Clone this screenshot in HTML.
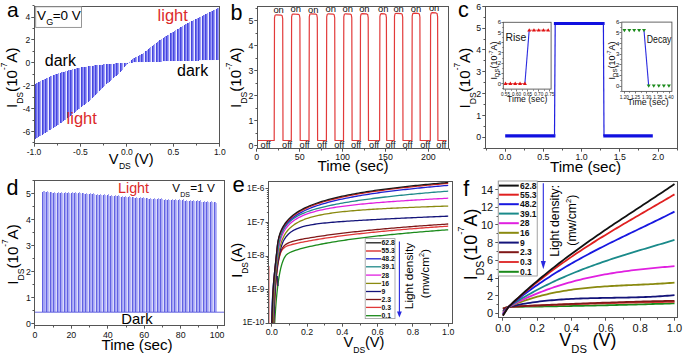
<!DOCTYPE html>
<html><head><meta charset="utf-8"><style>
html,body{margin:0;padding:0;background:#fff;}
svg{display:block;font-family:"Liberation Sans", sans-serif;}
</style></head><body>
<svg width="685" height="357" viewBox="0 0 685 357">
<rect width="685" height="357" fill="#fff"/>
<path d="M34.5,84.23 L35,83.96 L35.5,83.69 L36,83.42 L36.5,83.16 L37,82.89 L37.5,82.63 L38,82.37 L38.5,82.12 L39,81.86 L39.5,81.61 L40,81.36 L40.5,81.11 L41,80.86 L41.5,80.61 L42,80.37 L42.5,80.13 L43,79.89 L43.5,79.65 L44,79.41 L44.5,79.18 L45,78.95 L45.5,78.72 L46,78.49 L46.5,78.26 L47,78.03 L47.5,77.8 L48,77.58 L48.5,77.35 L49,77.13 L49.5,76.91 L50,76.69 L50.5,76.48 L51,76.27 L51.5,76.06 L52,75.85 L52.5,75.64 L53,75.44 L53.5,75.24 L54,75.05 L54.5,74.86 L55,74.67 L55.5,74.49 L56,74.31 L56.5,74.13 L57,73.95 L57.5,73.78 L58,73.61 L58.5,73.44 L59,73.27 L59.5,73.1 L60,72.94 L60.5,72.77 L61,72.61 L61.5,72.45 L62,72.3 L62.5,72.14 L63,71.99 L63.5,71.83 L64,71.68 L64.5,71.54 L65,71.39 L65.5,71.24 L66,71.1 L66.5,70.96 L67,70.82 L67.5,70.68 L68,70.55 L68.5,70.41 L69,70.28 L69.5,70.14 L70,70.01 L70.5,69.88 L71,69.75 L71.5,69.62 L72,69.49 L72.5,69.37 L73,69.24 L73.5,69.12 L74,69 L74.5,68.88 L75,68.76 L75.5,68.64 L76,68.52 L76.5,68.41 L77,68.3 L77.5,68.19 L78,68.08 L78.5,67.98 L79,67.88 L79.5,67.78 L80,67.68 L80.5,67.58 L81,67.49 L81.5,67.39 L82,67.3 L82.5,67.21 L83,67.12 L83.5,67.03 L84,66.95 L84.5,66.86 L85,66.78 L85.5,66.69 L86,66.61 L86.5,66.53 L87,66.45 L87.5,66.37 L88,66.29 L88.5,66.22 L89,66.14 L89.5,66.07 L90,66 L90.5,65.93 L91,65.86 L91.5,65.79 L92,65.73 L92.5,65.66 L93,65.6 L93.5,65.54 L94,65.48 L94.5,65.42 L95,65.36 L95.5,65.3 L96,65.25 L96.5,65.19 L97,65.13 L97.5,65.08 L98,65.03 L98.5,64.98 L99,64.92 L99.5,64.87 L100,64.82 L100.5,64.77 L101,64.73 L101.5,64.68 L102,64.63 L102.5,64.58 L103,64.54 L103.5,64.49 L104,64.44 L104.5,64.4 L105,64.35 L105.5,64.31 L106,64.26 L106.5,64.22 L107,64.18 L107.5,64.13 L108,64.09 L108.5,64.05 L109,64.01 L109.5,63.97 L110,63.93 L110.5,63.89 L111,63.85 L111.5,63.81 L112,63.77 L112.5,63.73 L113,63.69 L113.5,63.65 L114,63.61 L114.5,63.58 L115,63.54 L115.5,63.5 L116,63.46 L116.5,63.43 L117,63.39 L117.5,63.35 L118,63.31 L118.5,63.28 L119,63.24 L119.5,63.2 L120,63.17 L120.5,63.13 L121,63.1 L121.5,63.06 L122,63.02 L122.5,62.99 L123,62.95 L123.5,62.92 L124,62.88 L124.5,62.85 L125,62.81 L125.5,62.78 L126,62.75 L126.5,62.71 L127,62.68 L127.5,62.65 L128,62.61 L128.5,62.78 L129,62.74 L129.5,62.71 L130,62.67 L130.5,62.64 L131,62.61 L131.5,62.59 L132,62.56 L132.5,62.54 L133,62.52 L133.5,62.5 L134,62.48 L134.5,62.46 L135,62.44 L135.5,62.42 L136,62.41 L136.5,62.39 L137,62.37 L137.5,62.36 L138,62.34 L138.5,62.33 L139,62.31 L139.5,62.3 L140,62.28 L140.5,62.26 L141,62.25 L141.5,62.23 L142,62.21 L142.5,62.2 L143,62.18 L143.5,62.16 L144,62.14 L144.5,62.12 L145,62.11 L145.5,62.09 L146,62.07 L146.5,62.05 L147,62.03 L147.5,62.01 L148,61.99 L148.5,61.98 L149,61.96 L149.5,61.94 L150,61.92 L150.5,61.9 L151,61.88 L151.5,61.86 L152,61.85 L152.5,61.83 L153,61.81 L153.5,61.79 L154,61.77 L154.5,61.75 L155,61.73 L155.5,61.72 L156,61.7 L156.5,61.68 L157,61.66 L157.5,61.64 L158,61.63 L158.5,61.61 L159,61.59 L159.5,61.57 L160,61.56 L160.5,61.54 L161,61.52 L161.5,61.51 L162,61.49 L162.5,61.47 L163,61.46 L163.5,61.44 L164,61.42 L164.5,61.41 L165,61.39 L165.5,61.38 L166,61.36 L166.5,61.35 L167,61.33 L167.5,61.32 L168,61.3 L168.5,61.29 L169,61.28 L169.5,61.26 L170,61.25 L170.5,61.23 L171,61.22 L171.5,61.21 L172,61.19 L172.5,61.18 L173,61.17 L173.5,61.15 L174,61.14 L174.5,61.13 L175,61.11 L175.5,61.1 L176,61.09 L176.5,61.07 L177,61.06 L177.5,61.05 L178,61.04 L178.5,61.02 L179,61.01 L179.5,61 L180,60.98 L180.5,60.97 L181,60.96 L181.5,60.95 L182,60.93 L182.5,60.92 L183,60.91 L183.5,60.9 L184,60.88 L184.5,60.87 L185,60.86 L185.5,60.84 L186,60.83 L186.5,60.82 L187,60.81 L187.5,60.79 L188,60.78 L188.5,60.77 L189,60.75 L189.5,60.74 L190,60.73 L190.5,60.71 L191,60.7 L191.5,60.69 L192,60.68 L192.5,60.66 L193,60.65 L193.5,60.64 L194,60.62 L194.5,60.61 L195,60.6 L195.5,60.59 L196,60.57 L196.5,60.56 L197,60.55 L197.5,60.53 L198,60.52 L198.5,60.51 L199,60.5 L199.5,60.48 L200,60.47 L200.5,60.46 L201,60.45 L201.5,60.43 L202,60.42 L202.5,60.41 L203,60.4 L203.5,60.38 L204,60.37 L204.5,60.36 L205,60.35 L205.5,60.33 L206,60.32 L206.5,60.31 L207,60.3 L207.5,60.28 L208,60.27 L208.5,60.26 L209,60.25 L209.5,60.23 L210,60.22 L210.5,60.21 L211,60.2 L211.5,60.18 L212,60.17 L212.5,60.16 L213,60.15 L213.5,60.13 L214,60.12 L214.5,60.11 L215,60.1 L215.5,60.09 L216,60.07 L216.5,60.06 L217,60.05 L217.5,60.04 L218,60.02 L218.5,60.01 L219,60 L219.5,59.99 L219.5,7.35 L219,7.6 L218.5,7.85 L218,8.09 L217.5,8.34 L217,8.58 L216.5,8.83 L216,9.07 L215.5,9.32 L215,9.57 L214.5,9.82 L214,10.06 L213.5,10.31 L213,10.56 L212.5,10.81 L212,11.05 L211.5,11.3 L211,11.55 L210.5,11.8 L210,12.05 L209.5,12.3 L209,12.55 L208.5,12.8 L208,13.05 L207.5,13.3 L207,13.55 L206.5,13.81 L206,14.06 L205.5,14.31 L205,14.56 L204.5,14.82 L204,15.07 L203.5,15.32 L203,15.58 L202.5,15.83 L202,16.08 L201.5,16.34 L201,16.59 L200.5,16.84 L200,17.09 L199.5,17.35 L199,17.6 L198.5,17.85 L198,18.1 L197.5,18.35 L197,18.6 L196.5,18.84 L196,19.09 L195.5,19.33 L195,19.57 L194.5,19.81 L194,20.06 L193.5,20.3 L193,20.54 L192.5,20.79 L192,21.03 L191.5,21.28 L191,21.53 L190.5,21.78 L190,22.03 L189.5,22.29 L189,22.54 L188.5,22.8 L188,23.07 L187.5,23.34 L187,23.61 L186.5,23.89 L186,24.17 L185.5,24.45 L185,24.74 L184.5,25.03 L184,25.33 L183.5,25.62 L183,25.92 L182.5,26.23 L182,26.53 L181.5,26.84 L181,27.14 L180.5,27.45 L180,27.76 L179.5,28.07 L179,28.37 L178.5,28.68 L178,28.99 L177.5,29.29 L177,29.6 L176.5,29.9 L176,30.2 L175.5,30.5 L175,30.79 L174.5,31.09 L174,31.38 L173.5,31.67 L173,31.97 L172.5,32.26 L172,32.55 L171.5,32.84 L171,33.13 L170.5,33.42 L170,33.72 L169.5,34.01 L169,34.31 L168.5,34.61 L168,34.91 L167.5,35.21 L167,35.51 L166.5,35.82 L166,36.14 L165.5,36.45 L165,36.77 L164.5,37.09 L164,37.42 L163.5,37.75 L163,38.09 L162.5,38.42 L162,38.76 L161.5,39.1 L161,39.45 L160.5,39.8 L160,40.15 L159.5,40.5 L159,40.85 L158.5,41.21 L158,41.57 L157.5,41.93 L157,42.29 L156.5,42.66 L156,43.02 L155.5,43.39 L155,43.76 L154.5,44.13 L154,44.5 L153.5,44.87 L153,45.26 L152.5,45.65 L152,46.04 L151.5,46.45 L151,46.86 L150.5,47.27 L150,47.69 L149.5,48.11 L149,48.53 L148.5,48.95 L148,49.37 L147.5,49.79 L147,50.21 L146.5,50.62 L146,51.03 L145.5,51.43 L145,51.82 L144.5,52.2 L144,52.58 L143.5,52.94 L143,53.29 L142.5,53.63 L142,53.96 L141.5,54.27 L141,54.56 L140.5,54.84 L140,55.11 L139.5,55.37 L139,55.63 L138.5,55.88 L138,56.12 L137.5,56.37 L137,56.61 L136.5,56.85 L136,57.1 L135.5,57.36 L135,57.62 L134.5,57.88 L134,58.16 L133.5,58.45 L133,58.76 L132.5,59.08 L132,59.42 L131.5,59.78 L131,60.16 L130.5,60.59 L130,61.07 L129.5,61.59 L129,62.12 L128.5,62.67 L128,63.62 L127.5,64.18 L127,64.73 L126.5,65.28 L126,65.83 L125.5,66.37 L125,66.92 L124.5,67.45 L124,67.99 L123.5,68.52 L123,69.04 L122.5,69.57 L122,70.09 L121.5,70.6 L121,71.11 L120.5,71.62 L120,72.12 L119.5,72.62 L119,73.12 L118.5,73.61 L118,74.09 L117.5,74.57 L117,75.04 L116.5,75.51 L116,75.97 L115.5,76.42 L115,76.87 L114.5,77.32 L114,77.76 L113.5,78.2 L113,78.63 L112.5,79.07 L112,79.5 L111.5,79.94 L111,80.37 L110.5,80.8 L110,81.24 L109.5,81.67 L109,82.11 L108.5,82.55 L108,83 L107.5,83.45 L107,83.9 L106.5,84.36 L106,84.82 L105.5,85.29 L105,85.77 L104.5,86.26 L104,86.75 L103.5,87.25 L103,87.76 L102.5,88.27 L102,88.78 L101.5,89.3 L101,89.82 L100.5,90.34 L100,90.86 L99.5,91.38 L99,91.9 L98.5,92.42 L98,92.94 L97.5,93.45 L97,93.96 L96.5,94.46 L96,94.96 L95.5,95.46 L95,95.94 L94.5,96.42 L94,96.89 L93.5,97.35 L93,97.8 L92.5,98.24 L92,98.68 L91.5,99.11 L91,99.53 L90.5,99.95 L90,100.36 L89.5,100.77 L89,101.17 L88.5,101.57 L88,101.97 L87.5,102.36 L87,102.75 L86.5,103.14 L86,103.53 L85.5,103.92 L85,104.31 L84.5,104.69 L84,105.08 L83.5,105.47 L83,105.85 L82.5,106.24 L82,106.63 L81.5,107.03 L81,107.42 L80.5,107.82 L80,108.22 L79.5,108.62 L79,109.03 L78.5,109.44 L78,109.84 L77.5,110.25 L77,110.66 L76.5,111.07 L76,111.48 L75.5,111.89 L75,112.3 L74.5,112.71 L74,113.12 L73.5,113.53 L73,113.93 L72.5,114.33 L72,114.74 L71.5,115.14 L71,115.53 L70.5,115.93 L70,116.32 L69.5,116.71 L69,117.09 L68.5,117.47 L68,117.85 L67.5,118.22 L67,118.59 L66.5,118.96 L66,119.33 L65.5,119.7 L65,120.06 L64.5,120.42 L64,120.78 L63.5,121.14 L63,121.49 L62.5,121.85 L62,122.2 L61.5,122.55 L61,122.9 L60.5,123.24 L60,123.59 L59.5,123.93 L59,124.27 L58.5,124.61 L58,124.95 L57.5,125.28 L57,125.61 L56.5,125.95 L56,126.28 L55.5,126.6 L55,126.93 L54.5,127.25 L54,127.57 L53.5,127.89 L53,128.21 L52.5,128.52 L52,128.83 L51.5,129.14 L51,129.44 L50.5,129.75 L50,130.05 L49.5,130.35 L49,130.66 L48.5,130.96 L48,131.26 L47.5,131.56 L47,131.86 L46.5,132.16 L46,132.46 L45.5,132.76 L45,133.06 L44.5,133.36 L44,133.66 L43.5,133.96 L43,134.27 L42.5,134.57 L42,134.87 L41.5,135.16 L41,135.46 L40.5,135.76 L40,136.06 L39.5,136.36 L39,136.65 L38.5,136.95 L38,137.25 L37.5,137.54 L37,137.84 L36.5,138.13 L36,138.43 L35.5,138.72 L35,139.01 L34.5,139.31 Z" fill="#eeeefe"/>
<path d="M35,83.96 L35,139.01 L36,138.43 L36,83.42 Z M38,82.37 L38,137.25 L39,136.65 L39,81.86 Z M42,80.37 L42,134.87 L43,134.27 L43,79.89 Z M45,78.95 L45,133.06 L46,132.46 L46,78.49 Z M49,77.13 L49,130.66 L50,130.05 L50,76.69 Z M53,75.44 L53,128.21 L54,127.57 L54,75.05 Z M56,74.31 L56,126.28 L57,125.61 L57,73.95 Z M60,72.94 L60,123.59 L61,122.9 L61,72.61 Z M63,71.99 L63,121.49 L64,120.78 L64,71.68 Z M67,70.82 L67,118.59 L68,117.85 L68,70.55 Z M70,70.01 L70,116.32 L71,115.53 L71,69.75 Z M74,69 L74,113.12 L75,112.3 L75,68.76 Z M77,68.3 L77,110.66 L78,109.84 L78,68.08 Z M81,67.49 L81,107.42 L82,106.63 L82,67.3 Z M84,66.95 L84,105.08 L85,104.31 L85,66.78 Z M88,66.29 L88,101.97 L89,101.17 L89,66.14 Z M92,65.73 L92,98.68 L93,97.8 L93,65.6 Z M95,65.36 L95,95.94 L96,94.96 L96,65.25 Z M99,64.92 L99,91.9 L100,90.86 L100,64.82 Z M102,64.63 L102,88.78 L103,87.76 L103,64.54 Z M106,64.26 L106,84.82 L107,83.9 L107,64.18 Z M109,64.01 L109,82.11 L110,81.24 L110,63.93 Z M113,63.69 L113,78.63 L114,77.76 L114,63.61 Z M116,63.46 L116,75.97 L117,75.04 L117,63.39 Z M120,63.17 L120,72.12 L121,71.11 L121,63.1 Z M124,62.88 L124,67.99 L125,66.92 L125,62.81 Z M127,62.68 L127,64.73 L128,63.62 L128,62.61 Z M131,62.61 L131,60.16 L132,59.42 L132,62.56 Z M134,62.48 L134,58.16 L135,57.62 L135,62.44 Z M138,62.34 L138,56.12 L139,55.63 L139,62.31 Z M141,62.25 L141,54.56 L142,53.96 L142,62.21 Z M145,62.11 L145,51.82 L146,51.03 L146,62.07 Z M148,61.99 L148,49.37 L149,48.53 L149,61.96 Z M152,61.85 L152,46.04 L153,45.26 L153,61.81 Z M156,61.7 L156,43.02 L157,42.29 L157,61.66 Z M159,61.59 L159,40.85 L160,40.15 L160,61.56 Z M163,61.46 L163,38.09 L164,37.42 L164,61.42 Z M166,61.36 L166,36.14 L167,35.51 L167,61.33 Z M170,61.25 L170,33.72 L171,33.13 L171,61.22 Z M173,61.17 L173,31.97 L174,31.38 L174,61.14 Z M177,61.06 L177,29.6 L178,28.99 L178,61.04 Z M180,60.98 L180,27.76 L181,27.14 L181,60.96 Z M184,60.88 L184,25.33 L185,24.74 L185,60.86 Z M187,60.81 L187,23.61 L188,23.07 L188,60.78 Z M191,60.7 L191,21.53 L192,21.03 L192,60.68 Z M195,60.6 L195,19.57 L196,19.09 L196,60.57 Z M198,60.52 L198,18.1 L199,17.6 L199,60.5 Z M202,60.42 L202,16.08 L203,15.58 L203,60.4 Z M205,60.35 L205,14.56 L206,14.06 L206,60.32 Z M209,60.25 L209,12.55 L210,12.05 L210,60.22 Z M212,60.17 L212,11.05 L213,10.56 L213,60.15 Z M216,60.07 L216,9.07 L217,8.58 L217,60.05 Z" fill="#4646de" shape-rendering="crispEdges"/>
<path d="M36,83.42 L36,138.43 L37,137.84 L37,82.89 Z M39,81.86 L39,136.65 L40,136.06 L40,81.36 Z M43,79.89 L43,134.27 L44,133.66 L44,79.41 Z M46,78.49 L46,132.46 L47,131.86 L47,78.03 Z M50,76.69 L50,130.05 L51,129.44 L51,76.27 Z M54,75.05 L54,127.57 L55,126.93 L55,74.67 Z M57,73.95 L57,125.61 L58,124.95 L58,73.61 Z M61,72.61 L61,122.9 L62,122.2 L62,72.3 Z M64,71.68 L64,120.78 L65,120.06 L65,71.39 Z M68,70.55 L68,117.85 L69,117.09 L69,70.28 Z M71,69.75 L71,115.53 L72,114.74 L72,69.49 Z M75,68.76 L75,112.3 L76,111.48 L76,68.52 Z M78,68.08 L78,109.84 L79,109.03 L79,67.88 Z M82,67.3 L82,106.63 L83,105.85 L83,67.12 Z M85,66.78 L85,104.31 L86,103.53 L86,66.61 Z M89,66.14 L89,101.17 L90,100.36 L90,66 Z M93,65.6 L93,97.8 L94,96.89 L94,65.48 Z M96,65.25 L96,94.96 L97,93.96 L97,65.13 Z M100,64.82 L100,90.86 L101,89.82 L101,64.73 Z M103,64.54 L103,87.76 L104,86.75 L104,64.44 Z M107,64.18 L107,83.9 L108,83 L108,64.09 Z M110,63.93 L110,81.24 L111,80.37 L111,63.85 Z M114,63.61 L114,77.76 L115,76.87 L115,63.54 Z M117,63.39 L117,75.04 L118,74.09 L118,63.31 Z M121,63.1 L121,71.11 L122,70.09 L122,63.02 Z M125,62.81 L125,66.92 L126,65.83 L126,62.75 Z M128,62.61 L128,63.62 L129,62.12 L129,62.74 Z M132,62.56 L132,59.42 L133,58.76 L133,62.52 Z M135,62.44 L135,57.62 L136,57.1 L136,62.41 Z M139,62.31 L139,55.63 L140,55.11 L140,62.28 Z M142,62.21 L142,53.96 L143,53.29 L143,62.18 Z M146,62.07 L146,51.03 L147,50.21 L147,62.03 Z M149,61.96 L149,48.53 L150,47.69 L150,61.92 Z M153,61.81 L153,45.26 L154,44.5 L154,61.77 Z M157,61.66 L157,42.29 L158,41.57 L158,61.63 Z M160,61.56 L160,40.15 L161,39.45 L161,61.52 Z M164,61.42 L164,37.42 L165,36.77 L165,61.39 Z M167,61.33 L167,35.51 L168,34.91 L168,61.3 Z M171,61.22 L171,33.13 L172,32.55 L172,61.19 Z M174,61.14 L174,31.38 L175,30.79 L175,61.11 Z M178,61.04 L178,28.99 L179,28.37 L179,61.01 Z M181,60.96 L181,27.14 L182,26.53 L182,60.93 Z M185,60.86 L185,24.74 L186,24.17 L186,60.83 Z M188,60.78 L188,23.07 L189,22.54 L189,60.75 Z M192,60.68 L192,21.03 L193,20.54 L193,60.65 Z M196,60.57 L196,19.09 L197,18.6 L197,60.55 Z M199,60.5 L199,17.6 L200,17.09 L200,60.47 Z M203,60.4 L203,15.58 L204,15.07 L204,60.37 Z M206,60.32 L206,14.06 L207,13.55 L207,60.3 Z M210,60.22 L210,12.05 L211,11.55 L211,60.2 Z M213,60.15 L213,10.56 L214,10.06 L214,60.12 Z M217,60.05 L217,8.58 L218,8.09 L218,60.02 Z" fill="#7070ee" shape-rendering="crispEdges"/>
<path d="M37,82.89 L37,137.84 L38,137.25 L38,82.37 Z M40,81.36 L40,136.06 L41,135.46 L41,80.86 Z M44,79.41 L44,133.66 L45,133.06 L45,78.95 Z M47,78.03 L47,131.86 L48,131.26 L48,77.58 Z M51,76.27 L51,129.44 L52,128.83 L52,75.85 Z M55,74.67 L55,126.93 L56,126.28 L56,74.31 Z M58,73.61 L58,124.95 L59,124.27 L59,73.27 Z M62,72.3 L62,122.2 L63,121.49 L63,71.99 Z M65,71.39 L65,120.06 L66,119.33 L66,71.1 Z M69,70.28 L69,117.09 L70,116.32 L70,70.01 Z M72,69.49 L72,114.74 L73,113.93 L73,69.24 Z M76,68.52 L76,111.48 L77,110.66 L77,68.3 Z M79,67.88 L79,109.03 L80,108.22 L80,67.68 Z M83,67.12 L83,105.85 L84,105.08 L84,66.95 Z M86,66.61 L86,103.53 L87,102.75 L87,66.45 Z M90,66 L90,100.36 L91,99.53 L91,65.86 Z M94,65.48 L94,96.89 L95,95.94 L95,65.36 Z M97,65.13 L97,93.96 L98,92.94 L98,65.03 Z M101,64.73 L101,89.82 L102,88.78 L102,64.63 Z M104,64.44 L104,86.75 L105,85.77 L105,64.35 Z M108,64.09 L108,83 L109,82.11 L109,64.01 Z M111,63.85 L111,80.37 L112,79.5 L112,63.77 Z M115,63.54 L115,76.87 L116,75.97 L116,63.46 Z M118,63.31 L118,74.09 L119,73.12 L119,63.24 Z M122,63.02 L122,70.09 L123,69.04 L123,62.95 Z M126,62.75 L126,65.83 L127,64.73 L127,62.68 Z M129,62.74 L129,62.12 L130,61.07 L130,62.67 Z M133,62.52 L133,58.76 L134,58.16 L134,62.48 Z M136,62.41 L136,57.1 L137,56.61 L137,62.37 Z M140,62.28 L140,55.11 L141,54.56 L141,62.25 Z M143,62.18 L143,53.29 L144,52.58 L144,62.14 Z M147,62.03 L147,50.21 L148,49.37 L148,61.99 Z M150,61.92 L150,47.69 L151,46.86 L151,61.88 Z M154,61.77 L154,44.5 L155,43.76 L155,61.73 Z M158,61.63 L158,41.57 L159,40.85 L159,61.59 Z M161,61.52 L161,39.45 L162,38.76 L162,61.49 Z M165,61.39 L165,36.77 L166,36.14 L166,61.36 Z M168,61.3 L168,34.91 L169,34.31 L169,61.28 Z M172,61.19 L172,32.55 L173,31.97 L173,61.17 Z M175,61.11 L175,30.79 L176,30.2 L176,61.09 Z M179,61.01 L179,28.37 L180,27.76 L180,60.98 Z M182,60.93 L182,26.53 L183,25.92 L183,60.91 Z M186,60.83 L186,24.17 L187,23.61 L187,60.81 Z M189,60.75 L189,22.54 L190,22.03 L190,60.73 Z M193,60.65 L193,20.54 L194,20.06 L194,60.62 Z M197,60.55 L197,18.6 L198,18.1 L198,60.52 Z M200,60.47 L200,17.09 L201,16.59 L201,60.45 Z M204,60.37 L204,15.07 L205,14.56 L205,60.35 Z M207,60.3 L207,13.55 L208,13.05 L208,60.27 Z M211,60.2 L211,11.55 L212,11.05 L212,60.17 Z M214,60.12 L214,10.06 L215,9.57 L215,60.1 Z M218,60.02 L218,8.09 L219,7.6 L219,60 Z" fill="#a0a0f6" shape-rendering="crispEdges"/>
<rect x="34.5" y="6.5" width="185" height="137" fill="none" stroke="#555555" stroke-width="1"/>
<line x1="31.3" y1="131.5" x2="34.5" y2="131.5" stroke="#555555" stroke-width="1"/>
<line x1="31.3" y1="108.5" x2="34.5" y2="108.5" stroke="#555555" stroke-width="1"/>
<line x1="31.3" y1="85.5" x2="34.5" y2="85.5" stroke="#555555" stroke-width="1"/>
<line x1="31.3" y1="62.5" x2="34.5" y2="62.5" stroke="#555555" stroke-width="1"/>
<line x1="31.3" y1="39.5" x2="34.5" y2="39.5" stroke="#555555" stroke-width="1"/>
<line x1="31.3" y1="17.5" x2="34.5" y2="17.5" stroke="#555555" stroke-width="1"/>
<line x1="32.5" y1="142.5" x2="34.5" y2="142.5" stroke="#555555" stroke-width="1"/>
<line x1="32.5" y1="120.5" x2="34.5" y2="120.5" stroke="#555555" stroke-width="1"/>
<line x1="32.5" y1="97.5" x2="34.5" y2="97.5" stroke="#555555" stroke-width="1"/>
<line x1="32.5" y1="74.5" x2="34.5" y2="74.5" stroke="#555555" stroke-width="1"/>
<line x1="32.5" y1="51.5" x2="34.5" y2="51.5" stroke="#555555" stroke-width="1"/>
<line x1="32.5" y1="28.5" x2="34.5" y2="28.5" stroke="#555555" stroke-width="1"/>
<line x1="32.5" y1="5.5" x2="34.5" y2="5.5" stroke="#555555" stroke-width="1"/>
<line x1="34.5" y1="143.5" x2="34.5" y2="146.7" stroke="#555555" stroke-width="1"/>
<line x1="80.5" y1="143.5" x2="80.5" y2="146.7" stroke="#555555" stroke-width="1"/>
<line x1="126.5" y1="143.5" x2="126.5" y2="146.7" stroke="#555555" stroke-width="1"/>
<line x1="173.5" y1="143.5" x2="173.5" y2="146.7" stroke="#555555" stroke-width="1"/>
<line x1="219.5" y1="143.5" x2="219.5" y2="146.7" stroke="#555555" stroke-width="1"/>
<line x1="57.5" y1="143.5" x2="57.5" y2="145.5" stroke="#555555" stroke-width="1"/>
<line x1="103.5" y1="143.5" x2="103.5" y2="145.5" stroke="#555555" stroke-width="1"/>
<line x1="150.5" y1="143.5" x2="150.5" y2="145.5" stroke="#555555" stroke-width="1"/>
<line x1="196.5" y1="143.5" x2="196.5" y2="145.5" stroke="#555555" stroke-width="1"/>
<text x="30.2" y="134.5" font-size="8.5" text-anchor="end" fill="#111" font-weight="normal" >-6</text>
<text x="30.2" y="111.6" font-size="8.5" text-anchor="end" fill="#111" font-weight="normal" >-4</text>
<text x="30.2" y="88.7" font-size="8.5" text-anchor="end" fill="#111" font-weight="normal" >-2</text>
<text x="30.2" y="65.8" font-size="8.5" text-anchor="end" fill="#111" font-weight="normal" >0</text>
<text x="30.2" y="42.9" font-size="8.5" text-anchor="end" fill="#111" font-weight="normal" >2</text>
<text x="30.2" y="20" font-size="8.5" text-anchor="end" fill="#111" font-weight="normal" >4</text>
<text x="34" y="155.3" font-size="8.5" text-anchor="middle" fill="#111" font-weight="normal" >-1.0</text>
<text x="80.45" y="155.3" font-size="8.5" text-anchor="middle" fill="#111" font-weight="normal" >-0.5</text>
<text x="126.9" y="155.3" font-size="8.5" text-anchor="middle" fill="#111" font-weight="normal" >0.0</text>
<text x="173.35" y="155.3" font-size="8.5" text-anchor="middle" fill="#111" font-weight="normal" >0.5</text>
<text x="219.8" y="155.3" font-size="8.5" text-anchor="middle" fill="#111" font-weight="normal" >1.0</text>
<rect x="35.7" y="6.8" width="45.8" height="20.6" fill="#fff" stroke="#8a8a8a" stroke-width="0.9"/>
<text x="37" y="20" font-size="13.5" text-anchor="start" fill="#000" font-weight="normal" >V</text>
<text x="46.2" y="25.4" font-size="9" text-anchor="start" fill="#000" font-weight="normal" >G</text>
<text x="52.7" y="20" font-size="13.5" text-anchor="start" fill="#000" font-weight="normal" >=0 V</text>
<text x="44.8" y="65.7" font-size="16" text-anchor="start" fill="#000" font-weight="normal" >dark</text>
<text x="66.6" y="124" font-size="16.5" text-anchor="start" fill="#dc2a2a" font-weight="normal" >light</text>
<text x="157.6" y="21.4" font-size="16.5" text-anchor="start" fill="#dc2a2a" font-weight="normal" >light</text>
<text x="177" y="76.2" font-size="16" text-anchor="start" fill="#000" font-weight="normal" >dark</text>
<text transform="translate(16.9,108.1) rotate(-90)" text-anchor="start"><tspan font-size="15.2" dy="0">I</tspan><tspan font-size="8.6" dy="5.9">DS</tspan><tspan font-size="15.2" dy="-5.9">(10</tspan><tspan font-size="8.2" dy="-9.6">-7</tspan><tspan font-size="15.2" dy="9.6">A)</tspan></text>
<text x="108.7" y="163.8" font-size="14.6" text-anchor="start" fill="#000" font-weight="normal" >V</text>
<text x="118.9" y="169.1" font-size="8.6" text-anchor="start" fill="#000" font-weight="normal" >DS</text>
<text x="134.2" y="163.8" font-size="14.6" text-anchor="start" fill="#000" font-weight="normal" >(V)</text>
<text x="7" y="17.2" font-size="21" text-anchor="start" fill="#000" font-weight="normal" >a</text>
<polyline points="257.6,140.5 274.2,140.5 274.5,17.8 275.1,15.2 276.2,14.8 281,15.1 282.2,15.8 282.7,18.8 283,140.5 291.3,140.5 291.6,17 292.2,14.4 293.3,14 298.2,14.3 299.4,15 299.9,18 300.2,140.5 309,140.5 309.3,16.8 309.9,14.2 311,13.8 315.6,14.1 316.8,14.8 317.3,17.8 317.6,140.5 326.4,140.5 326.7,16.8 327.3,14.2 328.4,13.8 333,14.1 334.2,14.8 334.7,17.8 335,140.5 343.5,140.5 343.8,16.8 344.4,14.2 345.5,13.8 350.1,14.1 351.3,14.8 351.8,17.8 352.1,140.5 360.2,140.5 360.5,16.6 361.1,14 362.2,13.6 366.5,13.9 367.7,14.6 368.2,17.6 368.5,140.5 379.6,140.5 379.9,16.6 380.5,14 381.6,13.6 384.7,13.9 385.9,14.6 386.4,17.6 386.7,140.5 394.2,140.5 394.5,16.3 395.1,13.7 396.2,13.3 401,13.6 402.2,14.3 402.7,17.3 403,140.5 411.9,140.5 412.2,16.1 412.8,13.5 413.9,13.1 418.2,13.4 419.4,14.1 419.9,17.1 420.2,140.5 430.3,140.5 430.6,15.6 431.2,13 432.3,12.6 435.9,12.9 437.1,13.6 437.6,16.6 437.9,140.5 446.5,140.5" fill="none" stroke="#e23a3a" stroke-width="1.2" stroke-linejoin="round" />
<rect x="257.5" y="6.5" width="191" height="142" fill="none" stroke="#555555" stroke-width="1"/>
<line x1="254.3" y1="145.5" x2="257.5" y2="145.5" stroke="#555555" stroke-width="1"/>
<line x1="254.3" y1="120.5" x2="257.5" y2="120.5" stroke="#555555" stroke-width="1"/>
<line x1="254.3" y1="95.5" x2="257.5" y2="95.5" stroke="#555555" stroke-width="1"/>
<line x1="254.3" y1="70.5" x2="257.5" y2="70.5" stroke="#555555" stroke-width="1"/>
<line x1="254.3" y1="45.5" x2="257.5" y2="45.5" stroke="#555555" stroke-width="1"/>
<line x1="254.3" y1="20.5" x2="257.5" y2="20.5" stroke="#555555" stroke-width="1"/>
<line x1="255.5" y1="133.5" x2="257.5" y2="133.5" stroke="#555555" stroke-width="1"/>
<line x1="255.5" y1="108.5" x2="257.5" y2="108.5" stroke="#555555" stroke-width="1"/>
<line x1="255.5" y1="83.5" x2="257.5" y2="83.5" stroke="#555555" stroke-width="1"/>
<line x1="255.5" y1="58.5" x2="257.5" y2="58.5" stroke="#555555" stroke-width="1"/>
<line x1="255.5" y1="33.5" x2="257.5" y2="33.5" stroke="#555555" stroke-width="1"/>
<line x1="255.5" y1="8.5" x2="257.5" y2="8.5" stroke="#555555" stroke-width="1"/>
<line x1="256.5" y1="148.5" x2="256.5" y2="151.7" stroke="#555555" stroke-width="1"/>
<line x1="299.5" y1="148.5" x2="299.5" y2="151.7" stroke="#555555" stroke-width="1"/>
<line x1="342.5" y1="148.5" x2="342.5" y2="151.7" stroke="#555555" stroke-width="1"/>
<line x1="385.5" y1="148.5" x2="385.5" y2="151.7" stroke="#555555" stroke-width="1"/>
<line x1="428.5" y1="148.5" x2="428.5" y2="151.7" stroke="#555555" stroke-width="1"/>
<line x1="278.5" y1="148.5" x2="278.5" y2="150.5" stroke="#555555" stroke-width="1"/>
<line x1="321.5" y1="148.5" x2="321.5" y2="150.5" stroke="#555555" stroke-width="1"/>
<line x1="364.5" y1="148.5" x2="364.5" y2="150.5" stroke="#555555" stroke-width="1"/>
<line x1="406.5" y1="148.5" x2="406.5" y2="150.5" stroke="#555555" stroke-width="1"/>
<line x1="449.5" y1="148.5" x2="449.5" y2="150.5" stroke="#555555" stroke-width="1"/>
<text x="253.4" y="148.6" font-size="8.8" text-anchor="end" fill="#111" font-weight="normal" >0</text>
<text x="253.4" y="123.6" font-size="8.8" text-anchor="end" fill="#111" font-weight="normal" >1</text>
<text x="253.4" y="98.6" font-size="8.8" text-anchor="end" fill="#111" font-weight="normal" >2</text>
<text x="253.4" y="73.6" font-size="8.8" text-anchor="end" fill="#111" font-weight="normal" >3</text>
<text x="253.4" y="48.6" font-size="8.8" text-anchor="end" fill="#111" font-weight="normal" >4</text>
<text x="253.4" y="23.6" font-size="8.8" text-anchor="end" fill="#111" font-weight="normal" >5</text>
<text x="256.8" y="160.2" font-size="8.8" text-anchor="middle" fill="#111" font-weight="normal" >0</text>
<text x="299.7" y="160.2" font-size="8.8" text-anchor="middle" fill="#111" font-weight="normal" >50</text>
<text x="342.6" y="160.2" font-size="8.8" text-anchor="middle" fill="#111" font-weight="normal" >100</text>
<text x="385.5" y="160.2" font-size="8.8" text-anchor="middle" fill="#111" font-weight="normal" >150</text>
<text x="428.4" y="160.2" font-size="8.8" text-anchor="middle" fill="#111" font-weight="normal" >200</text>
<text x="278.6" y="12.9" font-size="9.4" text-anchor="middle" fill="#111" font-weight="normal" >on</text>
<text x="295.75" y="12.1" font-size="9.4" text-anchor="middle" fill="#111" font-weight="normal" >on</text>
<text x="313.3" y="12.9" font-size="9.4" text-anchor="middle" fill="#111" font-weight="normal" >on</text>
<text x="330.7" y="12.1" font-size="9.4" text-anchor="middle" fill="#111" font-weight="normal" >on</text>
<text x="347.8" y="11.6" font-size="9.4" text-anchor="middle" fill="#111" font-weight="normal" >on</text>
<text x="364.35" y="11.6" font-size="9.4" text-anchor="middle" fill="#111" font-weight="normal" >on</text>
<text x="383.15" y="12.4" font-size="9.4" text-anchor="middle" fill="#111" font-weight="normal" >on</text>
<text x="398.6" y="11.6" font-size="9.4" text-anchor="middle" fill="#111" font-weight="normal" >on</text>
<text x="416.05" y="11.6" font-size="9.4" text-anchor="middle" fill="#111" font-weight="normal" >on</text>
<text x="434.1" y="10.8" font-size="9.4" text-anchor="middle" fill="#111" font-weight="normal" >on</text>
<text x="265.65" y="147.6" font-size="9.2" text-anchor="middle" fill="#111" font-weight="normal" >off</text>
<text x="287.15" y="147.6" font-size="9.2" text-anchor="middle" fill="#111" font-weight="normal" >off</text>
<text x="304.6" y="147.6" font-size="9.2" text-anchor="middle" fill="#111" font-weight="normal" >off</text>
<text x="322" y="147.6" font-size="9.2" text-anchor="middle" fill="#111" font-weight="normal" >off</text>
<text x="339.25" y="147.6" font-size="9.2" text-anchor="middle" fill="#111" font-weight="normal" >off</text>
<text x="356.15" y="147.6" font-size="9.2" text-anchor="middle" fill="#111" font-weight="normal" >off</text>
<text x="374.05" y="147.6" font-size="9.2" text-anchor="middle" fill="#111" font-weight="normal" >off</text>
<text x="390.45" y="147.6" font-size="9.2" text-anchor="middle" fill="#111" font-weight="normal" >off</text>
<text x="407.45" y="147.6" font-size="9.2" text-anchor="middle" fill="#111" font-weight="normal" >off</text>
<text x="425.25" y="147.6" font-size="9.2" text-anchor="middle" fill="#111" font-weight="normal" >off</text>
<text x="441.4" y="147.6" font-size="9.2" text-anchor="middle" fill="#111" font-weight="normal" >off</text>
<text transform="translate(241.3,108) rotate(-90)" text-anchor="start"><tspan font-size="15.2" dy="0">I</tspan><tspan font-size="8.6" dy="5.9">DS</tspan><tspan font-size="15.2" dy="-5.9">(10</tspan><tspan font-size="8.2" dy="-9.6">-7</tspan><tspan font-size="15.2" dy="9.6">A)</tspan></text>
<text x="353" y="170.8" font-size="15.2" text-anchor="middle" fill="#000" font-weight="normal" >Time (sec)</text>
<text x="230.5" y="19.8" font-size="21.5" text-anchor="start" fill="#000" font-weight="normal" >b</text>
<line x1="505.2" y1="135.9" x2="555.4" y2="135.9" stroke="#1010e0" stroke-width="3.1"/>
<line x1="554.5" y1="135.9" x2="555.2" y2="23.5" stroke="#2020e0" stroke-width="1.2"/>
<line x1="553.9" y1="23.5" x2="604.6" y2="23.5" stroke="#1010e0" stroke-width="3.2"/>
<line x1="603.4" y1="23.5" x2="604" y2="135.9" stroke="#2020e0" stroke-width="1.2"/>
<line x1="603.3" y1="135.9" x2="652.8" y2="135.9" stroke="#1010e0" stroke-width="3.1"/>
<rect x="485.5" y="6.5" width="192" height="142" fill="none" stroke="#555555" stroke-width="1"/>
<line x1="482.3" y1="137.5" x2="485.5" y2="137.5" stroke="#555555" stroke-width="1"/>
<line x1="482.3" y1="115.5" x2="485.5" y2="115.5" stroke="#555555" stroke-width="1"/>
<line x1="482.3" y1="93.5" x2="485.5" y2="93.5" stroke="#555555" stroke-width="1"/>
<line x1="482.3" y1="71.5" x2="485.5" y2="71.5" stroke="#555555" stroke-width="1"/>
<line x1="482.3" y1="49.5" x2="485.5" y2="49.5" stroke="#555555" stroke-width="1"/>
<line x1="482.3" y1="28.5" x2="485.5" y2="28.5" stroke="#555555" stroke-width="1"/>
<line x1="482.3" y1="6.5" x2="485.5" y2="6.5" stroke="#555555" stroke-width="1"/>
<line x1="483.5" y1="148.5" x2="485.5" y2="148.5" stroke="#555555" stroke-width="1"/>
<line x1="483.5" y1="126.5" x2="485.5" y2="126.5" stroke="#555555" stroke-width="1"/>
<line x1="483.5" y1="104.5" x2="485.5" y2="104.5" stroke="#555555" stroke-width="1"/>
<line x1="483.5" y1="82.5" x2="485.5" y2="82.5" stroke="#555555" stroke-width="1"/>
<line x1="483.5" y1="60.5" x2="485.5" y2="60.5" stroke="#555555" stroke-width="1"/>
<line x1="483.5" y1="39.5" x2="485.5" y2="39.5" stroke="#555555" stroke-width="1"/>
<line x1="483.5" y1="17.5" x2="485.5" y2="17.5" stroke="#555555" stroke-width="1"/>
<line x1="505.5" y1="148.5" x2="505.5" y2="151.7" stroke="#555555" stroke-width="1"/>
<line x1="543.5" y1="148.5" x2="543.5" y2="151.7" stroke="#555555" stroke-width="1"/>
<line x1="581.5" y1="148.5" x2="581.5" y2="151.7" stroke="#555555" stroke-width="1"/>
<line x1="619.5" y1="148.5" x2="619.5" y2="151.7" stroke="#555555" stroke-width="1"/>
<line x1="658.5" y1="148.5" x2="658.5" y2="151.7" stroke="#555555" stroke-width="1"/>
<line x1="486.5" y1="148.5" x2="486.5" y2="150.5" stroke="#555555" stroke-width="1"/>
<line x1="524.5" y1="148.5" x2="524.5" y2="150.5" stroke="#555555" stroke-width="1"/>
<line x1="562.5" y1="148.5" x2="562.5" y2="150.5" stroke="#555555" stroke-width="1"/>
<line x1="600.5" y1="148.5" x2="600.5" y2="150.5" stroke="#555555" stroke-width="1"/>
<line x1="638.5" y1="148.5" x2="638.5" y2="150.5" stroke="#555555" stroke-width="1"/>
<line x1="677.5" y1="148.5" x2="677.5" y2="150.5" stroke="#555555" stroke-width="1"/>
<text x="481.2" y="140.3" font-size="8.8" text-anchor="end" fill="#111" font-weight="normal" >0</text>
<text x="481.2" y="118.5" font-size="8.8" text-anchor="end" fill="#111" font-weight="normal" >1</text>
<text x="481.2" y="96.7" font-size="8.8" text-anchor="end" fill="#111" font-weight="normal" >2</text>
<text x="481.2" y="74.9" font-size="8.8" text-anchor="end" fill="#111" font-weight="normal" >3</text>
<text x="481.2" y="53.1" font-size="8.8" text-anchor="end" fill="#111" font-weight="normal" >4</text>
<text x="481.2" y="31.3" font-size="8.8" text-anchor="end" fill="#111" font-weight="normal" >5</text>
<text x="481.2" y="9.5" font-size="8.8" text-anchor="end" fill="#111" font-weight="normal" >6</text>
<text x="505.2" y="160.2" font-size="8.8" text-anchor="middle" fill="#111" font-weight="normal" >0.0</text>
<text x="543.4" y="160.2" font-size="8.8" text-anchor="middle" fill="#111" font-weight="normal" >0.5</text>
<text x="581.6" y="160.2" font-size="8.8" text-anchor="middle" fill="#111" font-weight="normal" >1.0</text>
<text x="619.8" y="160.2" font-size="8.8" text-anchor="middle" fill="#111" font-weight="normal" >1.5</text>
<text x="658" y="160.2" font-size="8.8" text-anchor="middle" fill="#111" font-weight="normal" >2.0</text>
<text transform="translate(469.6,108.4) rotate(-90)" text-anchor="start"><tspan font-size="15.2" dy="0">I</tspan><tspan font-size="8.6" dy="5.9">DS</tspan><tspan font-size="15.2" dy="-5.9">(10</tspan><tspan font-size="8.2" dy="-9.6">-7</tspan><tspan font-size="15.2" dy="9.6">A)</tspan></text>
<text x="585.6" y="171.8" font-size="15.2" text-anchor="middle" fill="#000" font-weight="normal" >Time (sec)</text>
<text x="458.1" y="16.9" font-size="21.5" text-anchor="start" fill="#000" font-weight="normal" >c</text>
<rect x="503.3" y="22.3" width="47.8" height="66.8" fill="#fff" stroke="#555555" stroke-width="0.9"/>
<line x1="501.5" y1="83.5" x2="503.5" y2="83.5" stroke="#555555" stroke-width="0.8"/>
<line x1="501.5" y1="73.5" x2="503.5" y2="73.5" stroke="#555555" stroke-width="0.8"/>
<line x1="501.5" y1="63.5" x2="503.5" y2="63.5" stroke="#555555" stroke-width="0.8"/>
<line x1="501.5" y1="52.5" x2="503.5" y2="52.5" stroke="#555555" stroke-width="0.8"/>
<line x1="501.5" y1="42.5" x2="503.5" y2="42.5" stroke="#555555" stroke-width="0.8"/>
<line x1="501.5" y1="32.5" x2="503.5" y2="32.5" stroke="#555555" stroke-width="0.8"/>
<line x1="501.5" y1="22.5" x2="503.5" y2="22.5" stroke="#555555" stroke-width="0.8"/>
<line x1="502.3" y1="88.5" x2="503.5" y2="88.5" stroke="#555555" stroke-width="0.8"/>
<line x1="502.3" y1="78.5" x2="503.5" y2="78.5" stroke="#555555" stroke-width="0.8"/>
<line x1="502.3" y1="68.5" x2="503.5" y2="68.5" stroke="#555555" stroke-width="0.8"/>
<line x1="502.3" y1="58.5" x2="503.5" y2="58.5" stroke="#555555" stroke-width="0.8"/>
<line x1="502.3" y1="47.5" x2="503.5" y2="47.5" stroke="#555555" stroke-width="0.8"/>
<line x1="502.3" y1="37.5" x2="503.5" y2="37.5" stroke="#555555" stroke-width="0.8"/>
<line x1="502.3" y1="27.5" x2="503.5" y2="27.5" stroke="#555555" stroke-width="0.8"/>
<line x1="505.5" y1="89.5" x2="505.5" y2="91.5" stroke="#555555" stroke-width="0.8"/>
<line x1="516.5" y1="89.5" x2="516.5" y2="91.5" stroke="#555555" stroke-width="0.8"/>
<line x1="527.5" y1="89.5" x2="527.5" y2="91.5" stroke="#555555" stroke-width="0.8"/>
<line x1="538.5" y1="89.5" x2="538.5" y2="91.5" stroke="#555555" stroke-width="0.8"/>
<line x1="549.5" y1="89.5" x2="549.5" y2="91.5" stroke="#555555" stroke-width="0.8"/>
<line x1="511.5" y1="89.5" x2="511.5" y2="90.7" stroke="#555555" stroke-width="0.8"/>
<line x1="522.5" y1="89.5" x2="522.5" y2="90.7" stroke="#555555" stroke-width="0.8"/>
<line x1="533.5" y1="89.5" x2="533.5" y2="90.7" stroke="#555555" stroke-width="0.8"/>
<line x1="544.5" y1="89.5" x2="544.5" y2="90.7" stroke="#555555" stroke-width="0.8"/>
<text x="501" y="85.6" font-size="6" text-anchor="end" fill="#111" font-weight="normal" >0</text>
<text x="501" y="75.4" font-size="6" text-anchor="end" fill="#111" font-weight="normal" >1</text>
<text x="501" y="65.2" font-size="6" text-anchor="end" fill="#111" font-weight="normal" >2</text>
<text x="501" y="55" font-size="6" text-anchor="end" fill="#111" font-weight="normal" >3</text>
<text x="501" y="44.8" font-size="6" text-anchor="end" fill="#111" font-weight="normal" >4</text>
<text x="501" y="34.6" font-size="6" text-anchor="end" fill="#111" font-weight="normal" >5</text>
<text x="501" y="24.4" font-size="6" text-anchor="end" fill="#111" font-weight="normal" >6</text>
<text x="505.5" y="96" font-size="5.8" text-anchor="middle" fill="#111" font-weight="normal" textLength="9" lengthAdjust="spacingAndGlyphs">0.55</text>
<text x="516.57" y="96" font-size="5.8" text-anchor="middle" fill="#111" font-weight="normal" textLength="9" lengthAdjust="spacingAndGlyphs">0.60</text>
<text x="527.65" y="96" font-size="5.8" text-anchor="middle" fill="#111" font-weight="normal" textLength="9" lengthAdjust="spacingAndGlyphs">0.65</text>
<text x="538.72" y="96" font-size="5.8" text-anchor="middle" fill="#111" font-weight="normal" textLength="9" lengthAdjust="spacingAndGlyphs">0.70</text>
<text x="549.8" y="96" font-size="5.8" text-anchor="middle" fill="#111" font-weight="normal" textLength="9" lengthAdjust="spacingAndGlyphs">0.75</text>
<line x1="524.9" y1="83.5" x2="529.2" y2="30.1" stroke="#2a2ae0" stroke-width="1.1"/>
<line x1="505.5" y1="83.6" x2="524.9" y2="83.6" stroke="#e01010" stroke-width="0.7"/>
<line x1="529.2" y1="30.2" x2="548.2" y2="30.2" stroke="#e01010" stroke-width="0.7"/>
<line x1="624.1" y1="29.4" x2="643.9" y2="29.4" stroke="#1a8a1a" stroke-width="0.7"/>
<line x1="648.7" y1="84.9" x2="668.9" y2="84.9" stroke="#1a8a1a" stroke-width="0.7"/>
<path d="M503.5,85 L507.5,85 L505.5,81.6 Z" fill="#e01010"/>
<path d="M527.2,31.6 L531.2,31.6 L529.2,28.2 Z" fill="#e01010"/>
<path d="M508.35,85 L512.35,85 L510.35,81.6 Z" fill="#e01010"/>
<path d="M531.95,31.6 L535.95,31.6 L533.95,28.2 Z" fill="#e01010"/>
<path d="M513.2,85 L517.2,85 L515.2,81.6 Z" fill="#e01010"/>
<path d="M536.7,31.6 L540.7,31.6 L538.7,28.2 Z" fill="#e01010"/>
<path d="M518.05,85 L522.05,85 L520.05,81.6 Z" fill="#e01010"/>
<path d="M541.45,31.6 L545.45,31.6 L543.45,28.2 Z" fill="#e01010"/>
<path d="M522.9,85 L526.9,85 L524.9,81.6 Z" fill="#e01010"/>
<path d="M546.2,31.6 L550.2,31.6 L548.2,28.2 Z" fill="#e01010"/>
<text x="505.4" y="41.2" font-size="11.4" text-anchor="start" fill="#111" font-weight="normal" textLength="20.8" lengthAdjust="spacingAndGlyphs">Rise</text>
<text x="527.2" y="101.9" font-size="8.6" text-anchor="middle" fill="#111" font-weight="normal" >Time (sec)</text>
<text transform="translate(496.6,60.4) rotate(-90)" text-anchor="middle" font-size="9" fill="#000"><tspan font-size="9" dy="0">I</tspan><tspan font-size="6.12" dy="2.7">DS</tspan><tspan font-size="9" dy="-2.7">(10</tspan><tspan font-size="5.58" dy="-3.42">-7</tspan><tspan font-size="9" dy="3.42">A)</tspan></text>
<rect x="621.8" y="22.1" width="50.1" height="69.3" fill="#fff" stroke="#555555" stroke-width="0.9"/>
<line x1="619.5" y1="86.5" x2="621.5" y2="86.5" stroke="#555555" stroke-width="0.8"/>
<line x1="619.5" y1="75.5" x2="621.5" y2="75.5" stroke="#555555" stroke-width="0.8"/>
<line x1="619.5" y1="64.5" x2="621.5" y2="64.5" stroke="#555555" stroke-width="0.8"/>
<line x1="619.5" y1="54.5" x2="621.5" y2="54.5" stroke="#555555" stroke-width="0.8"/>
<line x1="619.5" y1="43.5" x2="621.5" y2="43.5" stroke="#555555" stroke-width="0.8"/>
<line x1="619.5" y1="32.5" x2="621.5" y2="32.5" stroke="#555555" stroke-width="0.8"/>
<line x1="619.5" y1="22.5" x2="621.5" y2="22.5" stroke="#555555" stroke-width="0.8"/>
<line x1="620.3" y1="91.5" x2="621.5" y2="91.5" stroke="#555555" stroke-width="0.8"/>
<line x1="620.3" y1="80.5" x2="621.5" y2="80.5" stroke="#555555" stroke-width="0.8"/>
<line x1="620.3" y1="70.5" x2="621.5" y2="70.5" stroke="#555555" stroke-width="0.8"/>
<line x1="620.3" y1="59.5" x2="621.5" y2="59.5" stroke="#555555" stroke-width="0.8"/>
<line x1="620.3" y1="48.5" x2="621.5" y2="48.5" stroke="#555555" stroke-width="0.8"/>
<line x1="620.3" y1="38.5" x2="621.5" y2="38.5" stroke="#555555" stroke-width="0.8"/>
<line x1="620.3" y1="27.5" x2="621.5" y2="27.5" stroke="#555555" stroke-width="0.8"/>
<line x1="624.5" y1="91.5" x2="624.5" y2="93.5" stroke="#555555" stroke-width="0.8"/>
<line x1="635.5" y1="91.5" x2="635.5" y2="93.5" stroke="#555555" stroke-width="0.8"/>
<line x1="646.5" y1="91.5" x2="646.5" y2="93.5" stroke="#555555" stroke-width="0.8"/>
<line x1="657.5" y1="91.5" x2="657.5" y2="93.5" stroke="#555555" stroke-width="0.8"/>
<line x1="669.5" y1="91.5" x2="669.5" y2="93.5" stroke="#555555" stroke-width="0.8"/>
<line x1="629.5" y1="91.5" x2="629.5" y2="92.7" stroke="#555555" stroke-width="0.8"/>
<line x1="641.5" y1="91.5" x2="641.5" y2="92.7" stroke="#555555" stroke-width="0.8"/>
<line x1="652.5" y1="91.5" x2="652.5" y2="92.7" stroke="#555555" stroke-width="0.8"/>
<line x1="663.5" y1="91.5" x2="663.5" y2="92.7" stroke="#555555" stroke-width="0.8"/>
<text x="619.4" y="88.1" font-size="6" text-anchor="end" fill="#111" font-weight="normal" >0</text>
<text x="619.4" y="77.45" font-size="6" text-anchor="end" fill="#111" font-weight="normal" >1</text>
<text x="619.4" y="66.8" font-size="6" text-anchor="end" fill="#111" font-weight="normal" >2</text>
<text x="619.4" y="56.15" font-size="6" text-anchor="end" fill="#111" font-weight="normal" >3</text>
<text x="619.4" y="45.5" font-size="6" text-anchor="end" fill="#111" font-weight="normal" >4</text>
<text x="619.4" y="34.85" font-size="6" text-anchor="end" fill="#111" font-weight="normal" >5</text>
<text x="619.4" y="24.2" font-size="6" text-anchor="end" fill="#111" font-weight="normal" >6</text>
<text x="624.3" y="98.6" font-size="5.8" text-anchor="middle" fill="#111" font-weight="normal" textLength="9.2" lengthAdjust="spacingAndGlyphs">1.20</text>
<text x="635.48" y="98.6" font-size="5.8" text-anchor="middle" fill="#111" font-weight="normal" textLength="9.2" lengthAdjust="spacingAndGlyphs">1.25</text>
<text x="646.65" y="98.6" font-size="5.8" text-anchor="middle" fill="#111" font-weight="normal" textLength="9.2" lengthAdjust="spacingAndGlyphs">1.30</text>
<text x="657.83" y="98.6" font-size="5.8" text-anchor="middle" fill="#111" font-weight="normal" textLength="9.2" lengthAdjust="spacingAndGlyphs">1.35</text>
<text x="669" y="98.6" font-size="5.8" text-anchor="middle" fill="#111" font-weight="normal" textLength="9.2" lengthAdjust="spacingAndGlyphs">1.40</text>
<line x1="644" y1="30.5" x2="648.7" y2="86" stroke="#2a2ae0" stroke-width="1.1"/>
<path d="M622.4,28.9 L626.4,28.9 L624.4,32.3 Z" fill="#1a8a1a"/>
<path d="M646.7,84.4 L650.7,84.4 L648.7,87.8 Z" fill="#1a8a1a"/>
<path d="M627.3,28.9 L631.3,28.9 L629.3,32.3 Z" fill="#1a8a1a"/>
<path d="M651.75,84.4 L655.75,84.4 L653.75,87.8 Z" fill="#1a8a1a"/>
<path d="M632.2,28.9 L636.2,28.9 L634.2,32.3 Z" fill="#1a8a1a"/>
<path d="M656.8,84.4 L660.8,84.4 L658.8,87.8 Z" fill="#1a8a1a"/>
<path d="M637.1,28.9 L641.1,28.9 L639.1,32.3 Z" fill="#1a8a1a"/>
<path d="M661.85,84.4 L665.85,84.4 L663.85,87.8 Z" fill="#1a8a1a"/>
<path d="M642,28.9 L646,28.9 L644,32.3 Z" fill="#1a8a1a"/>
<path d="M666.9,84.4 L670.9,84.4 L668.9,87.8 Z" fill="#1a8a1a"/>
<text x="646.8" y="42.5" font-size="10.6" text-anchor="start" fill="#111" font-weight="normal" textLength="24.6" lengthAdjust="spacingAndGlyphs">Decay</text>
<text x="648" y="105.2" font-size="8.8" text-anchor="middle" fill="#111" font-weight="normal" >Time (sec)</text>
<text transform="translate(614.6,60.4) rotate(-90)" text-anchor="middle" font-size="9" fill="#000"><tspan font-size="9" dy="0">I</tspan><tspan font-size="6.12" dy="2.7">DS</tspan><tspan font-size="9" dy="-2.7">(10</tspan><tspan font-size="5.58" dy="-3.42">-7</tspan><tspan font-size="9" dy="3.42">A)</tspan></text>
<path d="M42.4,312.2 L42.4,192 L42.9,192.06 L43.4,192.12 L43.9,192.18 L44.4,192.23 L44.9,192.29 L45.4,192.35 L45.9,192.41 L46.4,192.46 L46.9,192.52 L47.4,192.57 L47.9,192.62 L48.4,192.68 L48.9,192.73 L49.4,192.78 L49.9,192.83 L50.4,192.88 L50.9,192.93 L51.4,192.97 L51.9,193.02 L52.4,193.06 L52.9,193.1 L53.4,193.14 L53.9,193.18 L54.4,193.22 L54.9,193.25 L55.4,193.29 L55.9,193.32 L56.4,193.35 L56.9,193.38 L57.4,193.4 L57.9,193.42 L58.4,193.45 L58.9,193.47 L59.4,193.48 L59.9,193.5 L60.4,193.51 L60.9,193.52 L61.4,193.53 L61.9,193.54 L62.4,193.55 L62.9,193.56 L63.4,193.57 L63.9,193.58 L64.4,193.59 L64.9,193.6 L65.4,193.6 L65.9,193.61 L66.4,193.61 L66.9,193.62 L67.4,193.63 L67.9,193.63 L68.4,193.64 L68.9,193.64 L69.4,193.65 L69.9,193.65 L70.4,193.66 L70.9,193.66 L71.4,193.67 L71.9,193.67 L72.4,193.68 L72.9,193.68 L73.4,193.69 L73.9,193.69 L74.4,193.7 L74.9,193.71 L75.4,193.71 L75.9,193.72 L76.4,193.73 L76.9,193.74 L77.4,193.75 L77.9,193.75 L78.4,193.76 L78.9,193.77 L79.4,193.79 L79.9,193.8 L80.4,193.81 L80.9,193.83 L81.4,193.84 L81.9,193.86 L82.4,193.88 L82.9,193.9 L83.4,193.93 L83.9,193.96 L84.4,193.98 L84.9,194.01 L85.4,194.04 L85.9,194.07 L86.4,194.11 L86.9,194.14 L87.4,194.18 L87.9,194.21 L88.4,194.25 L88.9,194.29 L89.4,194.33 L89.9,194.36 L90.4,194.4 L90.9,194.45 L91.4,194.49 L91.9,194.53 L92.4,194.57 L92.9,194.61 L93.4,194.66 L93.9,194.7 L94.4,194.74 L94.9,194.78 L95.4,194.83 L95.9,194.87 L96.4,194.91 L96.9,194.95 L97.4,194.99 L97.9,195.03 L98.4,195.08 L98.9,195.11 L99.4,195.15 L99.9,195.19 L100.4,195.23 L100.9,195.27 L101.4,195.31 L101.9,195.35 L102.4,195.39 L102.9,195.43 L103.4,195.47 L103.9,195.51 L104.4,195.55 L104.9,195.59 L105.4,195.63 L105.9,195.67 L106.4,195.71 L106.9,195.75 L107.4,195.8 L107.9,195.84 L108.4,195.88 L108.9,195.93 L109.4,195.97 L109.9,196.01 L110.4,196.05 L110.9,196.1 L111.4,196.14 L111.9,196.18 L112.4,196.23 L112.9,196.27 L113.4,196.32 L113.9,196.36 L114.4,196.4 L114.9,196.45 L115.4,196.49 L115.9,196.53 L116.4,196.58 L116.9,196.62 L117.4,196.67 L117.9,196.71 L118.4,196.75 L118.9,196.8 L119.4,196.84 L119.9,196.88 L120.4,196.93 L120.9,196.97 L121.4,197.01 L121.9,197.05 L122.4,197.09 L122.9,197.14 L123.4,197.18 L123.9,197.22 L124.4,197.26 L124.9,197.3 L125.4,197.34 L125.9,197.38 L126.4,197.42 L126.9,197.46 L127.4,197.5 L127.9,197.54 L128.4,197.58 L128.9,197.62 L129.4,197.66 L129.9,197.69 L130.4,197.73 L130.9,197.77 L131.4,197.8 L131.9,197.84 L132.4,197.88 L132.9,197.91 L133.4,197.95 L133.9,197.99 L134.4,198.02 L134.9,198.06 L135.4,198.09 L135.9,198.13 L136.4,198.17 L136.9,198.2 L137.4,198.24 L137.9,198.27 L138.4,198.31 L138.9,198.34 L139.4,198.38 L139.9,198.41 L140.4,198.45 L140.9,198.48 L141.4,198.52 L141.9,198.55 L142.4,198.59 L142.9,198.62 L143.4,198.66 L143.9,198.69 L144.4,198.72 L144.9,198.76 L145.4,198.79 L145.9,198.82 L146.4,198.86 L146.9,198.89 L147.4,198.92 L147.9,198.96 L148.4,198.99 L148.9,199.02 L149.4,199.05 L149.9,199.09 L150.4,199.12 L150.9,199.15 L151.4,199.18 L151.9,199.21 L152.4,199.24 L152.9,199.28 L153.4,199.31 L153.9,199.34 L154.4,199.37 L154.9,199.4 L155.4,199.43 L155.9,199.46 L156.4,199.49 L156.9,199.52 L157.4,199.55 L157.9,199.58 L158.4,199.61 L158.9,199.64 L159.4,199.67 L159.9,199.69 L160.4,199.72 L160.9,199.75 L161.4,199.78 L161.9,199.81 L162.4,199.83 L162.9,199.86 L163.4,199.89 L163.9,199.91 L164.4,199.94 L164.9,199.96 L165.4,199.99 L165.9,200.01 L166.4,200.04 L166.9,200.06 L167.4,200.09 L167.9,200.11 L168.4,200.14 L168.9,200.16 L169.4,200.18 L169.9,200.21 L170.4,200.23 L170.9,200.26 L171.4,200.28 L171.9,200.3 L172.4,200.33 L172.9,200.35 L173.4,200.37 L173.9,200.39 L174.4,200.42 L174.9,200.44 L175.4,200.46 L175.9,200.49 L176.4,200.51 L176.9,200.53 L177.4,200.56 L177.9,200.58 L178.4,200.6 L178.9,200.63 L179.4,200.65 L179.9,200.67 L180.4,200.7 L180.9,200.72 L181.4,200.75 L181.9,200.77 L182.4,200.8 L182.9,200.82 L183.4,200.84 L183.9,200.87 L184.4,200.9 L184.9,200.92 L185.4,200.95 L185.9,200.97 L186.4,201 L186.9,201.03 L187.4,201.05 L187.9,201.08 L188.4,201.11 L188.9,201.14 L189.4,201.17 L189.9,201.19 L190.4,201.22 L190.9,201.25 L191.4,201.28 L191.9,201.31 L192.4,201.34 L192.9,201.37 L193.4,201.4 L193.9,201.43 L194.4,201.47 L194.9,201.5 L195.4,201.53 L195.9,201.56 L196.4,201.59 L196.9,201.62 L197.4,201.66 L197.9,201.69 L198.4,201.72 L198.9,201.76 L199.4,201.79 L199.9,201.82 L200.4,201.86 L200.9,201.89 L201.4,201.92 L201.9,201.96 L202.4,201.99 L202.9,202.03 L203.4,202.06 L203.9,202.1 L204.4,202.13 L204.9,202.17 L205.4,202.2 L205.9,202.24 L206.4,202.28 L206.9,202.31 L207.4,202.35 L207.9,202.39 L208.4,202.42 L208.9,202.46 L209.4,202.5 L209.9,202.53 L210.4,202.57 L210.9,202.61 L211.4,202.65 L211.9,202.68 L212.4,202.72 L212.9,202.76 L213.4,202.8 L213.9,202.84 L214.4,202.88 L214.9,202.91 L215.4,202.95 L215.9,202.99 L216,312.2 Z" fill="#dcdcfa"/>
<path d="M42,312.2 L42,191.61 L43,191.61 L43,312.2 Z M46,312.2 L46,192.07 L47,192.07 L47,312.2 Z M50,312.2 L50,192.49 L51,192.49 L51,312.2 Z M53,312.2 L53,192.75 L54,192.75 L54,312.2 Z M57,312.2 L57,193.01 L58,193.01 L58,312.2 Z M60,312.2 L60,193.11 L61,193.11 L61,312.2 Z M64,312.2 L64,193.19 L65,193.19 L65,312.2 Z M67,312.2 L67,193.23 L68,193.23 L68,312.2 Z M71,312.2 L71,193.27 L72,193.27 L72,312.2 Z M74,312.2 L74,193.3 L75,193.3 L75,312.2 Z M78,312.2 L78,193.37 L79,193.37 L79,312.2 Z M82,312.2 L82,193.49 L83,193.49 L83,312.2 Z M85,312.2 L85,193.65 L86,193.65 L86,312.2 Z M89,312.2 L89,193.93 L90,193.93 L90,312.2 Z M92,312.2 L92,194.18 L93,194.18 L93,312.2 Z M96,312.2 L96,194.52 L97,194.52 L97,312.2 Z M99,312.2 L99,194.76 L100,194.76 L100,312.2 Z M103,312.2 L103,195.07 L104,195.07 L104,312.2 Z M107,312.2 L107,195.41 L108,195.41 L108,312.2 Z M110,312.2 L110,195.66 L111,195.66 L111,312.2 Z M114,312.2 L114,196.01 L115,196.01 L115,312.2 Z M117,312.2 L117,196.27 L118,196.27 L118,312.2 Z M121,312.2 L121,196.62 L122,196.62 L122,312.2 Z M124,312.2 L124,196.87 L125,196.87 L125,312.2 Z M128,312.2 L128,197.19 L129,197.19 L129,312.2 Z M132,312.2 L132,197.48 L133,197.48 L133,312.2 Z M135,312.2 L135,197.7 L136,197.7 L136,312.2 Z M139,312.2 L139,197.99 L140,197.99 L140,312.2 Z M142,312.2 L142,198.19 L143,198.19 L143,312.2 Z M146,312.2 L146,198.46 L147,198.46 L147,312.2 Z M149,312.2 L149,198.66 L150,198.66 L150,312.2 Z M153,312.2 L153,198.91 L154,198.91 L154,312.2 Z M157,312.2 L157,199.15 L158,199.15 L158,312.2 Z M160,312.2 L160,199.33 L161,199.33 L161,312.2 Z M164,312.2 L164,199.54 L165,199.54 L165,312.2 Z M167,312.2 L167,199.69 L168,199.69 L168,312.2 Z M171,312.2 L171,199.88 L172,199.88 L172,312.2 Z M174,312.2 L174,200.02 L175,200.02 L175,312.2 Z M178,312.2 L178,200.21 L179,200.21 L179,312.2 Z M182,312.2 L182,200.4 L183,200.4 L183,312.2 Z M185,312.2 L185,200.55 L186,200.55 L186,312.2 Z M189,312.2 L189,200.77 L190,200.77 L190,312.2 Z M192,312.2 L192,200.95 L193,200.95 L193,312.2 Z M196,312.2 L196,201.2 L197,201.2 L197,312.2 Z M199,312.2 L199,201.4 L200,201.4 L200,312.2 Z M203,312.2 L203,201.67 L204,201.67 L204,312.2 Z M206,312.2 L206,201.88 L207,201.88 L207,312.2 Z M210,312.2 L210,202.18 L211,202.18 L211,312.2 Z M214,312.2 L214,202.48 L215,202.48 L215,312.2 Z" fill="#6262e2" shape-rendering="crispEdges"/>
<path d="M43,312.2 L43,190.73 L44,190.73 L44,312.2 Z M44,312.2 L44,190.85 L45,190.85 L45,312.2 Z M47,312.2 L47,191.18 L48,191.18 L48,312.2 Z M51,312.2 L51,191.58 L52,191.58 L52,312.2 Z M54,312.2 L54,191.82 L55,191.82 L55,312.2 Z M58,312.2 L58,192.05 L59,192.05 L59,312.2 Z M61,312.2 L61,192.14 L62,192.14 L62,312.2 Z M65,312.2 L65,192.2 L66,192.2 L66,312.2 Z M68,312.2 L68,192.24 L69,192.24 L69,312.2 Z M72,312.2 L72,192.28 L73,192.28 L73,312.2 Z M75,312.2 L75,192.31 L76,192.31 L76,312.2 Z M79,312.2 L79,192.39 L80,192.39 L80,312.2 Z M83,312.2 L83,192.53 L84,192.53 L84,312.2 Z M86,312.2 L86,192.71 L87,192.71 L87,312.2 Z M90,312.2 L90,193.01 L91,193.01 L91,312.2 Z M93,312.2 L93,193.26 L94,193.26 L94,312.2 Z M97,312.2 L97,193.6 L98,193.6 L98,312.2 Z M100,312.2 L100,193.84 L101,193.84 L101,312.2 Z M104,312.2 L104,194.16 L105,194.16 L105,312.2 Z M108,312.2 L108,194.49 L109,194.49 L109,312.2 Z M111,312.2 L111,194.75 L112,194.75 L112,312.2 Z M115,312.2 L115,195.1 L116,195.1 L116,312.2 Z M118,312.2 L118,195.36 L119,195.36 L119,312.2 Z M122,312.2 L122,195.7 L123,195.7 L123,312.2 Z M125,312.2 L125,195.95 L126,195.95 L126,312.2 Z M129,312.2 L129,196.26 L130,196.26 L130,312.2 Z M133,312.2 L133,196.56 L134,196.56 L134,312.2 Z M136,312.2 L136,196.77 L137,196.77 L137,312.2 Z M140,312.2 L140,197.06 L141,197.06 L141,312.2 Z M143,312.2 L143,197.26 L144,197.26 L144,312.2 Z M147,312.2 L147,197.53 L148,197.53 L148,312.2 Z M150,312.2 L150,197.72 L151,197.72 L151,312.2 Z M154,312.2 L154,197.97 L155,197.97 L155,312.2 Z M158,312.2 L158,198.21 L159,198.21 L159,312.2 Z M161,312.2 L161,198.38 L162,198.38 L162,312.2 Z M165,312.2 L165,198.59 L166,198.59 L166,312.2 Z M168,312.2 L168,198.74 L169,198.74 L169,312.2 Z M172,312.2 L172,198.93 L173,198.93 L173,312.2 Z M175,312.2 L175,199.07 L176,199.07 L176,312.2 Z M179,312.2 L179,199.26 L180,199.26 L180,312.2 Z M183,312.2 L183,199.45 L184,199.45 L184,312.2 Z M186,312.2 L186,199.6 L187,199.6 L187,312.2 Z M190,312.2 L190,199.83 L191,199.83 L191,312.2 Z M193,312.2 L193,200.01 L194,200.01 L194,312.2 Z M197,312.2 L197,200.26 L198,200.26 L198,312.2 Z M200,312.2 L200,200.46 L201,200.46 L201,312.2 Z M204,312.2 L204,200.74 L205,200.74 L205,312.2 Z M207,312.2 L207,200.96 L208,200.96 L208,312.2 Z M211,312.2 L211,201.25 L212,201.25 L212,312.2 Z M215,312.2 L215,201.56 L216,201.56 L216,312.2 Z" fill="#a4a4f4" shape-rendering="crispEdges"/>
<path d="M45,312.2 L45,191.96 L46,191.96 L46,312.2 Z M48,312.2 L48,192.29 L49,192.29 L49,312.2 Z M52,312.2 L52,192.67 L53,192.67 L53,312.2 Z M55,312.2 L55,192.89 L56,192.89 L56,312.2 Z M59,312.2 L59,193.09 L60,193.09 L60,312.2 Z M62,312.2 L62,193.16 L63,193.16 L63,312.2 Z M66,312.2 L66,193.22 L67,193.22 L67,312.2 Z M69,312.2 L69,193.25 L70,193.25 L70,312.2 Z M73,312.2 L73,193.29 L74,193.29 L74,312.2 Z M76,312.2 L76,193.33 L77,193.33 L77,312.2 Z M80,312.2 L80,193.41 L81,193.41 L81,312.2 Z M84,312.2 L84,193.59 L85,193.59 L85,312.2 Z M87,312.2 L87,193.78 L88,193.78 L88,312.2 Z M91,312.2 L91,194.1 L92,194.1 L92,312.2 Z M94,312.2 L94,194.35 L95,194.35 L95,312.2 Z M98,312.2 L98,194.68 L99,194.68 L99,312.2 Z M101,312.2 L101,194.92 L102,194.92 L102,312.2 Z M105,312.2 L105,195.24 L106,195.24 L106,312.2 Z M109,312.2 L109,195.58 L110,195.58 L110,312.2 Z M112,312.2 L112,195.84 L113,195.84 L113,312.2 Z M116,312.2 L116,196.19 L117,196.19 L117,312.2 Z M119,312.2 L119,196.45 L120,196.45 L120,312.2 Z M123,312.2 L123,196.79 L124,196.79 L124,312.2 Z M126,312.2 L126,197.03 L127,197.03 L127,312.2 Z M130,312.2 L130,197.34 L131,197.34 L131,312.2 Z M134,312.2 L134,197.63 L135,197.63 L135,312.2 Z M137,312.2 L137,197.84 L138,197.84 L138,312.2 Z M141,312.2 L141,198.12 L142,198.12 L142,312.2 Z M144,312.2 L144,198.33 L145,198.33 L145,312.2 Z M148,312.2 L148,198.6 L149,198.6 L149,312.2 Z M151,312.2 L151,198.79 L152,198.79 L152,312.2 Z M155,312.2 L155,199.04 L156,199.04 L156,312.2 Z M159,312.2 L159,199.27 L160,199.27 L160,312.2 Z M162,312.2 L162,199.44 L163,199.44 L163,312.2 Z M166,312.2 L166,199.64 L167,199.64 L167,312.2 Z M169,312.2 L169,199.79 L170,199.79 L170,312.2 Z M173,312.2 L173,199.98 L174,199.98 L174,312.2 Z M176,312.2 L176,200.12 L177,200.12 L177,312.2 Z M180,312.2 L180,200.3 L181,200.3 L181,312.2 Z M184,312.2 L184,200.5 L185,200.5 L185,312.2 Z M187,312.2 L187,200.66 L188,200.66 L188,312.2 Z M191,312.2 L191,200.89 L192,200.89 L192,312.2 Z M194,312.2 L194,201.07 L195,201.07 L195,312.2 Z M198,312.2 L198,201.33 L199,201.33 L199,312.2 Z M201,312.2 L201,201.53 L202,201.53 L202,312.2 Z M205,312.2 L205,201.81 L206,201.81 L206,312.2 Z M208,312.2 L208,202.03 L209,202.03 L209,312.2 Z M212,312.2 L212,202.33 L213,202.33 L213,312.2 Z M216,312.2 L216,202.64 L217,202.64 L217,312.2 Z" fill="#b8b8f8" shape-rendering="crispEdges"/>
<line x1="34.5" y1="312.2" x2="224.8" y2="312.2" stroke="#5656dc" stroke-width="0.9"/>
<rect x="34.5" y="180.5" width="190" height="145" fill="none" stroke="#555555" stroke-width="1"/>
<line x1="31.3" y1="323.5" x2="34.5" y2="323.5" stroke="#555555" stroke-width="1"/>
<line x1="31.3" y1="297.5" x2="34.5" y2="297.5" stroke="#555555" stroke-width="1"/>
<line x1="31.3" y1="271.5" x2="34.5" y2="271.5" stroke="#555555" stroke-width="1"/>
<line x1="31.3" y1="245.5" x2="34.5" y2="245.5" stroke="#555555" stroke-width="1"/>
<line x1="31.3" y1="219.5" x2="34.5" y2="219.5" stroke="#555555" stroke-width="1"/>
<line x1="31.3" y1="193.5" x2="34.5" y2="193.5" stroke="#555555" stroke-width="1"/>
<line x1="32.5" y1="310.5" x2="34.5" y2="310.5" stroke="#555555" stroke-width="1"/>
<line x1="32.5" y1="284.5" x2="34.5" y2="284.5" stroke="#555555" stroke-width="1"/>
<line x1="32.5" y1="258.5" x2="34.5" y2="258.5" stroke="#555555" stroke-width="1"/>
<line x1="32.5" y1="232.5" x2="34.5" y2="232.5" stroke="#555555" stroke-width="1"/>
<line x1="32.5" y1="206.5" x2="34.5" y2="206.5" stroke="#555555" stroke-width="1"/>
<line x1="32.5" y1="180.5" x2="34.5" y2="180.5" stroke="#555555" stroke-width="1"/>
<line x1="34.5" y1="325.5" x2="34.5" y2="328.7" stroke="#555555" stroke-width="1"/>
<line x1="71.5" y1="325.5" x2="71.5" y2="328.7" stroke="#555555" stroke-width="1"/>
<line x1="107.5" y1="325.5" x2="107.5" y2="328.7" stroke="#555555" stroke-width="1"/>
<line x1="144.5" y1="325.5" x2="144.5" y2="328.7" stroke="#555555" stroke-width="1"/>
<line x1="180.5" y1="325.5" x2="180.5" y2="328.7" stroke="#555555" stroke-width="1"/>
<line x1="217.5" y1="325.5" x2="217.5" y2="328.7" stroke="#555555" stroke-width="1"/>
<line x1="53.5" y1="325.5" x2="53.5" y2="327.5" stroke="#555555" stroke-width="1"/>
<line x1="89.5" y1="325.5" x2="89.5" y2="327.5" stroke="#555555" stroke-width="1"/>
<line x1="126.5" y1="325.5" x2="126.5" y2="327.5" stroke="#555555" stroke-width="1"/>
<line x1="162.5" y1="325.5" x2="162.5" y2="327.5" stroke="#555555" stroke-width="1"/>
<line x1="198.5" y1="325.5" x2="198.5" y2="327.5" stroke="#555555" stroke-width="1"/>
<text x="30.8" y="326.7" font-size="8.8" text-anchor="end" fill="#111" font-weight="normal" >0</text>
<text x="30.8" y="300.7" font-size="8.8" text-anchor="end" fill="#111" font-weight="normal" >1</text>
<text x="30.8" y="274.7" font-size="8.8" text-anchor="end" fill="#111" font-weight="normal" >2</text>
<text x="30.8" y="248.7" font-size="8.8" text-anchor="end" fill="#111" font-weight="normal" >3</text>
<text x="30.8" y="222.7" font-size="8.8" text-anchor="end" fill="#111" font-weight="normal" >4</text>
<text x="30.8" y="196.7" font-size="8.8" text-anchor="end" fill="#111" font-weight="normal" >5</text>
<text x="34.9" y="338.2" font-size="8.8" text-anchor="middle" fill="#111" font-weight="normal" >0</text>
<text x="71.34" y="338.2" font-size="8.8" text-anchor="middle" fill="#111" font-weight="normal" >20</text>
<text x="107.78" y="338.2" font-size="8.8" text-anchor="middle" fill="#111" font-weight="normal" >40</text>
<text x="144.22" y="338.2" font-size="8.8" text-anchor="middle" fill="#111" font-weight="normal" >60</text>
<text x="180.66" y="338.2" font-size="8.8" text-anchor="middle" fill="#111" font-weight="normal" >80</text>
<text x="217.1" y="338.2" font-size="8.8" text-anchor="middle" fill="#111" font-weight="normal" >100</text>
<text x="118" y="193.2" font-size="14.3" text-anchor="start" fill="#dc2a2a" font-weight="normal" >Light</text>
<text x="172.2" y="191.8" font-size="11.6" text-anchor="start" fill="#000" font-weight="normal" >V</text>
<text x="180.3" y="196.8" font-size="7" text-anchor="start" fill="#000" font-weight="normal" >DS</text>
<text x="190.2" y="191.8" font-size="11.8" text-anchor="start" fill="#000" font-weight="normal" >=1 V</text>
<text x="121.3" y="324.3" font-size="14.8" text-anchor="start" fill="#000" font-weight="normal" >Dark</text>
<text transform="translate(17.8,284.8) rotate(-90)" text-anchor="start"><tspan font-size="15.2" dy="0">I</tspan><tspan font-size="8.6" dy="5.9">DS</tspan><tspan font-size="15.2" dy="-5.9">(10</tspan><tspan font-size="8.2" dy="-9.6">-7</tspan><tspan font-size="15.2" dy="9.6">A)</tspan></text>
<text x="137" y="349.6" font-size="15.2" text-anchor="middle" fill="#000" font-weight="normal" >Time (sec)</text>
<text x="6.5" y="195.3" font-size="21.5" text-anchor="start" fill="#000" font-weight="normal" >d</text>
<clipPath id="ce"><rect x="268.3" y="181.3" width="184" height="142.1"/></clipPath>
<polyline points="274.6,324.5 274.92,318.96 275.27,313.51 275.64,308.17 276.05,302.97 276.48,297.92 276.96,293.04 277.47,288.34 278.03,283.86 278.62,279.61 279.27,275.6 279.97,271.85 280.72,268.4 281.53,265.24 282.39,262.41 283.32,259.92 284.31,257.79 285.37,256.05 286.5,254.7 287.71,253.76 289.94,252.47 289.96,252.47 291.95,251.58 293.95,250.83 295.95,250.16 297.96,249.55 299.96,248.98 301.96,248.44 303.97,247.92 305.97,247.43 307.97,246.95 309.98,246.49 311.98,246.04 313.98,245.61 315.99,245.19 317.99,244.78 319.99,244.38 322,243.99 324,243.61 326,243.25 328.01,242.89 330.01,242.54 332.01,242.2 334.02,241.86 336.02,241.54 338.02,241.22 340.03,240.9 342.03,240.6 344.03,240.3 346.04,240.01 348.04,239.72 350.04,239.44 352.04,239.16 354.05,238.89 356.05,238.62 358.05,238.36 360.06,238.1 362.06,237.85 364.06,237.6 366.07,237.36 368.07,237.12 370.07,236.88 372.08,236.65 374.08,236.42 376.08,236.19 378.09,235.97 380.09,235.75 382.09,235.54 384.1,235.32 386.1,235.11 388.1,234.91 390.11,234.7 392.11,234.5 394.11,234.31 396.12,234.11 398.12,233.92 400.12,233.73 402.13,233.54 404.13,233.36 406.13,233.17 408.14,232.99 410.14,232.81 412.14,232.64 414.15,232.46 416.15,232.29 418.15,232.12 420.15,231.95 422.16,231.79 424.16,231.62 426.16,231.46 428.17,231.3 430.17,231.14 432.17,230.98 434.18,230.83 436.18,230.67 438.18,230.52 440.19,230.37 442.19,230.22 444.19,230.07 446.2,229.93 448.2,229.78" fill="none" stroke="#1a8a1a" stroke-width="1.3" stroke-linejoin="round" clip-path="url(#ce)"/>
<polyline points="273.9,324.5 274.1,318.66 274.32,312.93 274.56,307.34 274.82,301.9 275.1,296.63 275.4,291.54 275.72,286.65 276.08,281.99 276.46,277.55 276.87,273.37 277.31,269.46 277.79,265.83 278.3,262.5 278.85,259.49 279.44,256.81 280.07,254.49 280.74,252.53 281.46,250.96 282.22,249.79 283.37,248.39 284.8,247.22 286.6,246.23 288.84,245.38 288.85,245.37 290.85,244.78 292.87,244.25 294.89,243.77 296.91,243.31 298.92,242.88 300.94,242.46 302.96,242.05 304.98,241.66 306.99,241.27 309.01,240.9 311.03,240.53 313.04,240.18 315.06,239.83 317.08,239.49 319.1,239.16 321.11,238.83 323.13,238.51 325.15,238.2 327.17,237.9 329.18,237.6 331.2,237.31 333.22,237.02 335.23,236.74 337.25,236.47 339.27,236.2 341.29,235.93 343.3,235.67 345.32,235.42 347.34,235.16 349.35,234.92 351.37,234.67 353.39,234.43 355.41,234.2 357.42,233.97 359.44,233.74 361.46,233.51 363.48,233.29 365.49,233.08 367.51,232.86 369.53,232.65 371.54,232.44 373.56,232.24 375.58,232.03 377.6,231.83 379.61,231.64 381.63,231.44 383.65,231.25 385.67,231.06 387.68,230.87 389.7,230.69 391.72,230.51 393.73,230.33 395.75,230.15 397.77,229.97 399.79,229.8 401.8,229.63 403.82,229.46 405.84,229.29 407.86,229.12 409.87,228.96 411.89,228.8 413.91,228.64 415.92,228.48 417.94,228.32 419.96,228.17 421.98,228.01 423.99,227.86 426.01,227.71 428.03,227.56 430.04,227.42 432.06,227.27 434.08,227.13 436.1,226.98 438.11,226.84 440.13,226.7 442.15,226.56 444.17,226.42 446.18,226.29 448.2,226.15" fill="none" stroke="#e03838" stroke-width="1.3" stroke-linejoin="round" clip-path="url(#ce)"/>
<polyline points="273.2,324.5 273.44,318.46 273.7,312.54 273.98,306.78 274.29,301.17 274.62,295.75 274.97,290.51 275.36,285.49 275.78,280.69 276.23,276.13 276.71,271.82 277.24,267.79 277.8,264.05 278.41,260.6 279.06,257.48 279.76,254.69 280.5,252.25 281.3,250.18 282.15,248.48 283.05,247.19 284.49,245.51 286.29,244.06 288.52,242.82 288.54,242.81 290.54,242.01 292.57,241.36 294.59,240.82 296.61,240.34 298.63,239.9 300.65,239.49 302.67,239.1 304.69,238.73 306.71,238.37 308.74,238.02 310.76,237.68 312.78,237.35 314.8,237.03 316.82,236.71 318.84,236.41 320.86,236.1 322.88,235.81 324.91,235.52 326.93,235.23 328.95,234.96 330.97,234.68 332.99,234.41 335.01,234.15 337.03,233.89 339.05,233.64 341.08,233.39 343.1,233.14 345.12,232.9 347.14,232.66 349.16,232.43 351.18,232.2 353.2,231.97 355.22,231.75 357.24,231.53 359.27,231.31 361.29,231.1 363.31,230.89 365.33,230.68 367.35,230.47 369.37,230.27 371.39,230.07 373.41,229.88 375.44,229.68 377.46,229.49 379.48,229.31 381.5,229.12 383.52,228.94 385.54,228.75 387.56,228.57 389.58,228.4 391.61,228.22 393.63,228.05 395.65,227.88 397.67,227.71 399.69,227.54 401.71,227.38 403.73,227.21 405.75,227.05 407.78,226.89 409.8,226.74 411.82,226.58 413.84,226.42 415.86,226.27 417.88,226.12 419.9,225.97 421.92,225.82 423.95,225.68 425.97,225.53 427.99,225.39 430.01,225.24 432.03,225.1 434.05,224.96 436.07,224.82 438.09,224.69 440.12,224.55 442.14,224.42 444.16,224.28 446.18,224.15 448.2,224.02" fill="none" stroke="#801818" stroke-width="1.3" stroke-linejoin="round" clip-path="url(#ce)"/>
<polyline points="273.6,324.5 273.78,318.54 273.98,312.82 274.19,307.33 274.42,302.06 274.66,297.02 274.93,292.19 275.22,287.58 275.53,283.17 275.87,278.98 276.24,274.99 276.63,271.19 277.05,267.6 277.51,264.19 278,260.97 278.52,257.94 279.08,255.09 279.68,252.41 280.32,249.9 281,247.57 281.91,244.64 283.05,241.8 284.49,239.07 286.29,236.46 288.52,234.02 288.54,234 290.55,232.31 292.57,230.94 294.59,229.8 296.61,228.84 298.63,228.03 300.65,227.33 302.67,226.72 304.69,226.18 306.71,225.71 308.74,225.28 310.76,224.9 312.78,224.56 314.8,224.24 316.82,223.96 318.84,223.69 320.86,223.44 322.88,223.21 324.91,223 326.93,222.8 328.95,222.61 330.97,222.42 332.99,222.25 335.01,222.08 337.03,221.93 339.05,221.77 341.08,221.62 343.1,221.48 345.12,221.34 347.14,221.2 349.16,221.07 351.18,220.94 353.2,220.81 355.22,220.69 357.25,220.57 359.27,220.45 361.29,220.33 363.31,220.21 365.33,220.1 367.35,219.98 369.37,219.87 371.39,219.76 373.42,219.65 375.44,219.54 377.46,219.43 379.48,219.33 381.5,219.22 383.52,219.12 385.54,219.01 387.56,218.91 389.58,218.81 391.61,218.71 393.63,218.61 395.65,218.51 397.67,218.41 399.69,218.31 401.71,218.21 403.73,218.12 405.75,218.02 407.78,217.93 409.8,217.83 411.82,217.74 413.84,217.65 415.86,217.55 417.88,217.46 419.9,217.37 421.92,217.28 423.95,217.19 425.97,217.1 427.99,217.01 430.01,216.92 432.03,216.83 434.05,216.74 436.07,216.66 438.09,216.57 440.12,216.49 442.14,216.4 444.16,216.31 446.18,216.23 448.2,216.15" fill="none" stroke="#14147a" stroke-width="1.3" stroke-linejoin="round" clip-path="url(#ce)"/>
<polyline points="273,324.5 273.17,318.63 273.35,313.05 273.54,307.74 273.75,302.68 273.97,297.86 274.22,293.27 274.49,288.89 274.77,284.72 275.08,280.74 275.42,276.93 275.78,273.29 276.17,269.79 276.58,266.43 277.03,263.19 277.51,260.06 278.02,257.03 278.57,254.08 279.16,251.19 279.78,248.37 280.51,245.2 281.42,242.06 282.56,238.96 284,235.91 285.79,232.92 288.03,230.02 288.05,230 290.06,227.91 292.09,226.15 294.11,224.65 296.14,223.35 298.17,222.21 300.2,221.2 302.22,220.29 304.25,219.48 306.28,218.73 308.31,218.06 310.33,217.44 312.36,216.87 314.39,216.35 316.42,215.86 318.44,215.41 320.47,214.99 322.5,214.59 324.53,214.23 326.55,213.88 328.58,213.55 330.61,213.25 332.64,212.96 334.66,212.68 336.69,212.42 338.72,212.17 340.75,211.94 342.77,211.72 344.8,211.5 346.83,211.3 348.86,211.1 350.88,210.92 352.91,210.74 354.94,210.57 356.97,210.4 358.99,210.24 361.02,210.09 363.05,209.94 365.07,209.8 367.1,209.66 369.13,209.52 371.16,209.39 373.18,209.27 375.21,209.14 377.24,209.02 379.27,208.91 381.29,208.8 383.32,208.69 385.35,208.58 387.38,208.47 389.4,208.37 391.43,208.27 393.46,208.17 395.49,208.08 397.51,207.98 399.54,207.89 401.57,207.8 403.6,207.71 405.62,207.62 407.65,207.54 409.68,207.45 411.71,207.37 413.73,207.29 415.76,207.21 417.79,207.13 419.82,207.05 421.84,206.97 423.87,206.89 425.9,206.82 427.93,206.74 429.95,206.67 431.98,206.6 434.01,206.52 436.04,206.45 438.06,206.38 440.09,206.31 442.12,206.24 444.15,206.17 446.17,206.1 448.2,206.04" fill="none" stroke="#8a8a10" stroke-width="1.3" stroke-linejoin="round" clip-path="url(#ce)"/>
<polyline points="272.2,324.5 272.36,318.64 272.53,313.12 272.72,307.91 272.92,303 273.14,298.35 273.37,293.94 273.63,289.75 273.9,285.76 274.2,281.94 274.52,278.27 274.87,274.72 275.24,271.28 275.64,267.92 276.08,264.61 276.54,261.33 277.03,258.06 277.56,254.78 278.12,251.46 278.72,248.07 279.3,244.86 280.03,241.67 280.94,238.5 282.08,235.37 283.51,232.27 285.31,229.23 287.55,226.26 287.57,226.24 289.58,224.09 291.62,222.26 293.65,220.7 295.68,219.33 297.72,218.13 299.75,217.05 301.78,216.08 303.82,215.2 305.85,214.4 307.89,213.67 309.92,212.99 311.95,212.36 313.99,211.77 316.02,211.22 318.05,210.71 320.09,210.23 322.12,209.78 324.15,209.35 326.19,208.94 328.22,208.56 330.25,208.19 332.29,207.84 334.32,207.51 336.35,207.19 338.39,206.89 340.42,206.6 342.46,206.32 344.49,206.05 346.52,205.79 348.56,205.54 350.59,205.29 352.62,205.06 354.66,204.83 356.69,204.61 358.72,204.4 360.76,204.19 362.79,203.99 364.82,203.79 366.86,203.6 368.89,203.42 370.93,203.24 372.96,203.06 374.99,202.88 377.03,202.72 379.06,202.55 381.09,202.39 383.13,202.23 385.16,202.07 387.19,201.92 389.23,201.77 391.26,201.62 393.29,201.48 395.33,201.33 397.36,201.19 399.39,201.05 401.43,200.92 403.46,200.78 405.5,200.65 407.53,200.52 409.56,200.39 411.6,200.27 413.63,200.14 415.66,200.02 417.7,199.9 419.73,199.78 421.76,199.66 423.8,199.54 425.83,199.42 427.86,199.31 429.9,199.2 431.93,199.08 433.97,198.97 436,198.86 438.03,198.75 440.07,198.64 442.1,198.54 444.13,198.43 446.17,198.33 448.2,198.22" fill="none" stroke="#e020e0" stroke-width="1.3" stroke-linejoin="round" clip-path="url(#ce)"/>
<polyline points="272.4,324.5 272.54,318.68 272.7,313.23 272.87,308.13 273.05,303.34 273.24,298.83 273.46,294.58 273.69,290.54 273.93,286.7 274.2,283.01 274.49,279.46 274.8,276 275.14,272.62 275.5,269.27 275.89,265.93 276.3,262.57 276.75,259.15 277.22,255.65 277.73,252.04 278.27,248.29 278.73,245.09 279.31,241.93 280.04,238.79 280.95,235.69 282.09,232.64 283.53,229.63 285.32,226.69 287.56,223.83 287.58,223.81 289.6,221.74 291.63,219.98 293.66,218.47 295.7,217.15 297.73,215.97 299.76,214.91 301.8,213.95 303.83,213.07 305.86,212.26 307.9,211.5 309.93,210.79 311.96,210.13 314,209.5 316.03,208.91 318.06,208.34 320.1,207.8 322.13,207.29 324.16,206.8 326.2,206.32 328.23,205.87 330.26,205.43 332.3,205 334.33,204.59 336.36,204.19 338.4,203.8 340.43,203.43 342.46,203.06 344.5,202.71 346.53,202.36 348.56,202.02 350.6,201.69 352.63,201.37 354.66,201.06 356.7,200.75 358.73,200.45 360.76,200.15 362.8,199.86 364.83,199.58 366.86,199.3 368.9,199.03 370.93,198.77 372.96,198.5 375,198.25 377.03,197.99 379.06,197.74 381.1,197.5 383.13,197.26 385.16,197.02 387.2,196.79 389.23,196.56 391.26,196.34 393.3,196.12 395.33,195.9 397.37,195.68 399.4,195.47 401.43,195.26 403.47,195.06 405.5,194.85 407.53,194.65 409.57,194.46 411.6,194.26 413.63,194.07 415.67,193.88 417.7,193.69 419.73,193.51 421.77,193.32 423.8,193.14 425.83,192.97 427.87,192.79 429.9,192.62 431.93,192.44 433.97,192.27 436,192.11 438.03,191.94 440.07,191.78 442.1,191.61 444.13,191.45 446.17,191.29 448.2,191.14" fill="none" stroke="#208a8a" stroke-width="1.3" stroke-linejoin="round" clip-path="url(#ce)"/>
<polyline points="271.6,324.5 271.74,318.77 271.88,313.5 272.04,308.65 272.21,304.16 272.39,300 272.59,296.11 272.81,292.44 273.04,288.96 273.3,285.6 273.57,282.33 273.86,279.09 274.18,275.84 274.52,272.53 274.89,269.11 275.28,265.54 275.7,261.77 276.14,257.74 276.62,253.42 277.13,248.76 277.42,246.03 277.79,243.39 278.25,240.83 278.83,238.33 279.56,235.87 280.47,233.41 281.62,230.92 283.05,228.37 284.85,225.73 287.08,223.01 287.1,222.99 289.12,220.91 291.16,219.07 293.2,217.44 295.24,215.98 297.28,214.65 299.32,213.43 301.36,212.3 303.4,211.26 305.44,210.28 307.48,209.37 309.52,208.51 311.56,207.7 313.6,206.93 315.64,206.2 317.68,205.5 319.72,204.84 321.75,204.21 323.79,203.6 325.83,203.01 327.87,202.45 329.91,201.91 331.95,201.39 333.99,200.89 336.03,200.4 338.07,199.93 340.11,199.47 342.15,199.03 344.19,198.6 346.23,198.19 348.27,197.78 350.31,197.39 352.35,197 354.39,196.63 356.43,196.26 358.46,195.91 360.5,195.56 362.54,195.22 364.58,194.89 366.62,194.57 368.66,194.25 370.7,193.94 372.74,193.63 374.78,193.34 376.82,193.05 378.86,192.76 380.9,192.48 382.94,192.2 384.98,191.93 387.02,191.67 389.06,191.41 391.1,191.15 393.14,190.9 395.17,190.65 397.21,190.41 399.25,190.17 401.29,189.94 403.33,189.71 405.37,189.48 407.41,189.25 409.45,189.03 411.49,188.81 413.53,188.6 415.57,188.39 417.61,188.18 419.65,187.98 421.69,187.77 423.73,187.57 425.77,187.38 427.81,187.18 429.85,186.99 431.88,186.8 433.92,186.61 435.96,186.43 438,186.25 440.04,186.07 442.08,185.89 444.12,185.71 446.16,185.54 448.2,185.37" fill="none" stroke="#2020d0" stroke-width="1.3" stroke-linejoin="round" clip-path="url(#ce)"/>
<polyline points="272.1,324.5 272.22,318.76 272.36,313.45 272.5,308.52 272.66,303.94 272.82,299.67 273,295.67 273.2,291.88 273.41,288.28 273.64,284.82 273.89,281.46 274.16,278.15 274.45,274.87 274.76,271.56 275.09,268.18 275.45,264.7 275.83,261.07 276.23,257.25 276.67,253.2 277.13,248.87 277.42,246.11 277.79,243.42 278.26,240.78 278.83,238.17 279.56,235.57 280.47,232.94 281.62,230.26 283.05,227.5 284.85,224.67 287.09,221.77 287.1,221.76 289.13,219.56 291.16,217.64 293.2,215.94 295.24,214.42 297.28,213.05 299.32,211.79 301.36,210.63 303.4,209.56 305.44,208.56 307.48,207.63 309.52,206.75 311.56,205.92 313.6,205.14 315.64,204.39 317.68,203.69 319.72,203.01 321.76,202.37 323.8,201.75 325.83,201.16 327.87,200.59 329.91,200.04 331.95,199.51 333.99,199 336.03,198.51 338.07,198.03 340.11,197.57 342.15,197.12 344.19,196.69 346.23,196.27 348.27,195.86 350.31,195.46 352.35,195.07 354.39,194.7 356.43,194.33 358.47,193.97 360.51,193.62 362.54,193.28 364.58,192.94 366.62,192.62 368.66,192.3 370.7,191.98 372.74,191.68 374.78,191.38 376.82,191.08 378.86,190.8 380.9,190.51 382.94,190.24 384.98,189.96 387.02,189.7 389.06,189.44 391.1,189.18 393.14,188.93 395.18,188.68 397.21,188.43 399.25,188.19 401.29,187.95 403.33,187.72 405.37,187.49 407.41,187.27 409.45,187.05 411.49,186.83 413.53,186.61 415.57,186.4 417.61,186.19 419.65,185.98 421.69,185.78 423.73,185.58 425.77,185.38 427.81,185.19 429.85,184.99 431.88,184.8 433.92,184.61 435.96,184.43 438,184.25 440.04,184.07 442.08,183.89 444.12,183.71 446.16,183.54 448.2,183.36" fill="none" stroke="#d42020" stroke-width="1.3" stroke-linejoin="round" clip-path="url(#ce)"/>
<polyline points="271.8,324.5 271.93,318.7 272.07,313.35 272.22,308.42 272.39,303.84 272.57,299.58 272.76,295.6 272.97,291.84 273.19,288.27 273.44,284.83 273.7,281.48 273.98,278.18 274.29,274.87 274.62,271.53 274.97,268.09 275.35,264.52 275.75,260.77 276.18,256.79 276.64,252.54 277.13,247.97 277.42,245.21 277.79,242.52 278.26,239.88 278.83,237.27 279.56,234.67 280.47,232.04 281.62,229.36 283.05,226.6 284.85,223.77 287.09,220.87 287.1,220.86 289.13,218.66 291.16,216.74 293.2,215.04 295.24,213.52 297.28,212.15 299.32,210.89 301.36,209.73 303.4,208.66 305.44,207.66 307.48,206.73 309.52,205.85 311.56,205.02 313.6,204.24 315.64,203.49 317.68,202.79 319.72,202.11 321.76,201.47 323.8,200.85 325.83,200.26 327.87,199.69 329.91,199.14 331.95,198.61 333.99,198.1 336.03,197.61 338.07,197.13 340.11,196.67 342.15,196.22 344.19,195.79 346.23,195.37 348.27,194.96 350.31,194.56 352.35,194.17 354.39,193.8 356.43,193.43 358.47,193.07 360.51,192.72 362.54,192.38 364.58,192.04 366.62,191.72 368.66,191.4 370.7,191.08 372.74,190.78 374.78,190.48 376.82,190.18 378.86,189.9 380.9,189.61 382.94,189.34 384.98,189.06 387.02,188.8 389.06,188.54 391.1,188.28 393.14,188.03 395.18,187.78 397.21,187.53 399.25,187.29 401.29,187.05 403.33,186.82 405.37,186.59 407.41,186.37 409.45,186.15 411.49,185.93 413.53,185.71 415.57,185.5 417.61,185.29 419.65,185.08 421.69,184.88 423.73,184.68 425.77,184.48 427.81,184.29 429.85,184.09 431.88,183.9 433.92,183.71 435.96,183.53 438,183.35 440.04,183.17 442.08,182.99 444.12,182.81 446.16,182.64 448.2,182.46" fill="none" stroke="#1a1a1a" stroke-width="1.3" stroke-linejoin="round" clip-path="url(#ce)"/>
<line x1="277.4" y1="276" x2="277.9" y2="286" stroke="#2a2a5a" stroke-width="1.4"/>
<line x1="269" y1="266" x2="269" y2="323" stroke="#d84040" stroke-width="0.9"/>
<rect x="268.5" y="181.5" width="184" height="142" fill="none" stroke="#555555" stroke-width="1"/>
<line x1="265.5" y1="323.5" x2="268.5" y2="323.5" stroke="#555555" stroke-width="1"/>
<line x1="265.5" y1="289.5" x2="268.5" y2="289.5" stroke="#555555" stroke-width="1"/>
<line x1="265.5" y1="256.5" x2="268.5" y2="256.5" stroke="#555555" stroke-width="1"/>
<line x1="265.5" y1="222.5" x2="268.5" y2="222.5" stroke="#555555" stroke-width="1"/>
<line x1="265.5" y1="188.5" x2="268.5" y2="188.5" stroke="#555555" stroke-width="1"/>
<line x1="266.9" y1="313.5" x2="268.5" y2="313.5" stroke="#555555" stroke-width="1"/>
<line x1="266.9" y1="307.5" x2="268.5" y2="307.5" stroke="#555555" stroke-width="1"/>
<line x1="266.9" y1="302.5" x2="268.5" y2="302.5" stroke="#555555" stroke-width="1"/>
<line x1="266.9" y1="299.5" x2="268.5" y2="299.5" stroke="#555555" stroke-width="1"/>
<line x1="266.9" y1="296.5" x2="268.5" y2="296.5" stroke="#555555" stroke-width="1"/>
<line x1="266.9" y1="294.5" x2="268.5" y2="294.5" stroke="#555555" stroke-width="1"/>
<line x1="266.9" y1="292.5" x2="268.5" y2="292.5" stroke="#555555" stroke-width="1"/>
<line x1="266.9" y1="291.5" x2="268.5" y2="291.5" stroke="#555555" stroke-width="1"/>
<line x1="266.9" y1="279.5" x2="268.5" y2="279.5" stroke="#555555" stroke-width="1"/>
<line x1="266.9" y1="273.5" x2="268.5" y2="273.5" stroke="#555555" stroke-width="1"/>
<line x1="266.9" y1="269.5" x2="268.5" y2="269.5" stroke="#555555" stroke-width="1"/>
<line x1="266.9" y1="266.5" x2="268.5" y2="266.5" stroke="#555555" stroke-width="1"/>
<line x1="266.9" y1="263.5" x2="268.5" y2="263.5" stroke="#555555" stroke-width="1"/>
<line x1="266.9" y1="261.5" x2="268.5" y2="261.5" stroke="#555555" stroke-width="1"/>
<line x1="266.9" y1="259.5" x2="268.5" y2="259.5" stroke="#555555" stroke-width="1"/>
<line x1="266.9" y1="257.5" x2="268.5" y2="257.5" stroke="#555555" stroke-width="1"/>
<line x1="266.9" y1="245.5" x2="268.5" y2="245.5" stroke="#555555" stroke-width="1"/>
<line x1="266.9" y1="239.5" x2="268.5" y2="239.5" stroke="#555555" stroke-width="1"/>
<line x1="266.9" y1="235.5" x2="268.5" y2="235.5" stroke="#555555" stroke-width="1"/>
<line x1="266.9" y1="232.5" x2="268.5" y2="232.5" stroke="#555555" stroke-width="1"/>
<line x1="266.9" y1="229.5" x2="268.5" y2="229.5" stroke="#555555" stroke-width="1"/>
<line x1="266.9" y1="227.5" x2="268.5" y2="227.5" stroke="#555555" stroke-width="1"/>
<line x1="266.9" y1="225.5" x2="268.5" y2="225.5" stroke="#555555" stroke-width="1"/>
<line x1="266.9" y1="223.5" x2="268.5" y2="223.5" stroke="#555555" stroke-width="1"/>
<line x1="266.9" y1="212.5" x2="268.5" y2="212.5" stroke="#555555" stroke-width="1"/>
<line x1="266.9" y1="206.5" x2="268.5" y2="206.5" stroke="#555555" stroke-width="1"/>
<line x1="266.9" y1="202.5" x2="268.5" y2="202.5" stroke="#555555" stroke-width="1"/>
<line x1="266.9" y1="198.5" x2="268.5" y2="198.5" stroke="#555555" stroke-width="1"/>
<line x1="266.9" y1="196.5" x2="268.5" y2="196.5" stroke="#555555" stroke-width="1"/>
<line x1="266.9" y1="194.5" x2="268.5" y2="194.5" stroke="#555555" stroke-width="1"/>
<line x1="266.9" y1="192.5" x2="268.5" y2="192.5" stroke="#555555" stroke-width="1"/>
<line x1="266.9" y1="190.5" x2="268.5" y2="190.5" stroke="#555555" stroke-width="1"/>
<line x1="271.5" y1="323.5" x2="271.5" y2="326.7" stroke="#555555" stroke-width="1"/>
<line x1="307.5" y1="323.5" x2="307.5" y2="326.7" stroke="#555555" stroke-width="1"/>
<line x1="342.5" y1="323.5" x2="342.5" y2="326.7" stroke="#555555" stroke-width="1"/>
<line x1="377.5" y1="323.5" x2="377.5" y2="326.7" stroke="#555555" stroke-width="1"/>
<line x1="412.5" y1="323.5" x2="412.5" y2="326.7" stroke="#555555" stroke-width="1"/>
<line x1="448.5" y1="323.5" x2="448.5" y2="326.7" stroke="#555555" stroke-width="1"/>
<line x1="289.5" y1="323.5" x2="289.5" y2="325.5" stroke="#555555" stroke-width="1"/>
<line x1="324.5" y1="323.5" x2="324.5" y2="325.5" stroke="#555555" stroke-width="1"/>
<line x1="360.5" y1="323.5" x2="360.5" y2="325.5" stroke="#555555" stroke-width="1"/>
<line x1="395.5" y1="323.5" x2="395.5" y2="325.5" stroke="#555555" stroke-width="1"/>
<line x1="430.5" y1="323.5" x2="430.5" y2="325.5" stroke="#555555" stroke-width="1"/>
<text x="264.4" y="191.2" font-size="8.2" text-anchor="end" fill="#111" font-weight="normal" >1E-6</text>
<text x="264.4" y="224.75" font-size="8.2" text-anchor="end" fill="#111" font-weight="normal" >1E-7</text>
<text x="264.4" y="258.3" font-size="8.2" text-anchor="end" fill="#111" font-weight="normal" >1E-8</text>
<text x="264.4" y="291.85" font-size="8.2" text-anchor="end" fill="#111" font-weight="normal" >1E-9</text>
<text x="264.4" y="325.4" font-size="8.2" text-anchor="end" fill="#111" font-weight="normal" >1E-10</text>
<text x="271.8" y="335" font-size="8.8" text-anchor="middle" fill="#111" font-weight="normal" >0.0</text>
<text x="307.08" y="335" font-size="8.8" text-anchor="middle" fill="#111" font-weight="normal" >0.2</text>
<text x="342.36" y="335" font-size="8.8" text-anchor="middle" fill="#111" font-weight="normal" >0.4</text>
<text x="377.64" y="335" font-size="8.8" text-anchor="middle" fill="#111" font-weight="normal" >0.6</text>
<text x="412.92" y="335" font-size="8.8" text-anchor="middle" fill="#111" font-weight="normal" >0.8</text>
<text x="448.2" y="335" font-size="8.8" text-anchor="middle" fill="#111" font-weight="normal" >1.0</text>
<rect x="365.2" y="238.6" width="29.8" height="80" fill="#fff" stroke="#9a9a9a" stroke-width="0.8"/>
<line x1="366" y1="242.8" x2="381.2" y2="242.8" stroke="#1a1a1a" stroke-width="1.3"/>
<text x="381.6" y="245.2" font-size="6.8" text-anchor="start" fill="#111" font-weight="bold" >62.8</text>
<line x1="366" y1="251" x2="381.2" y2="251" stroke="#d42020" stroke-width="1.3"/>
<text x="381.6" y="253.4" font-size="6.8" text-anchor="start" fill="#111" font-weight="bold" >55.3</text>
<line x1="366" y1="258.8" x2="381.2" y2="258.8" stroke="#2020d0" stroke-width="1.3"/>
<text x="381.6" y="261.2" font-size="6.8" text-anchor="start" fill="#111" font-weight="bold" >48.2</text>
<line x1="366" y1="266.8" x2="381.2" y2="266.8" stroke="#208a8a" stroke-width="1.3"/>
<text x="381.6" y="269.2" font-size="6.8" text-anchor="start" fill="#111" font-weight="bold" >39.1</text>
<line x1="366" y1="275.1" x2="381.2" y2="275.1" stroke="#e020e0" stroke-width="1.3"/>
<text x="381.6" y="277.5" font-size="6.8" text-anchor="start" fill="#111" font-weight="bold" >28</text>
<line x1="366" y1="283.4" x2="381.2" y2="283.4" stroke="#8a8a10" stroke-width="1.3"/>
<text x="381.6" y="285.8" font-size="6.8" text-anchor="start" fill="#111" font-weight="bold" >16</text>
<line x1="366" y1="291.5" x2="381.2" y2="291.5" stroke="#14147a" stroke-width="1.3"/>
<text x="381.6" y="293.9" font-size="6.8" text-anchor="start" fill="#111" font-weight="bold" >9</text>
<line x1="366" y1="299.5" x2="381.2" y2="299.5" stroke="#801818" stroke-width="1.3"/>
<text x="381.6" y="301.9" font-size="6.8" text-anchor="start" fill="#111" font-weight="bold" >2.3</text>
<line x1="366" y1="307.4" x2="381.2" y2="307.4" stroke="#e03838" stroke-width="1.3"/>
<text x="381.6" y="309.8" font-size="6.8" text-anchor="start" fill="#111" font-weight="bold" >0.3</text>
<line x1="366" y1="315.7" x2="381.2" y2="315.7" stroke="#1a8a1a" stroke-width="1.3"/>
<text x="381.6" y="318.1" font-size="6.8" text-anchor="start" fill="#111" font-weight="bold" >0.1</text>
<line x1="399.4" y1="241.5" x2="399.4" y2="313" stroke="#2828e0" stroke-width="1.1"/>
<path d="M397,311.5 L401.8,311.5 L399.4,317.5 Z" fill="#2828e0"/>
<text x="413.1" y="276" font-size="11.8" text-anchor="middle" fill="#000" font-weight="normal" transform="rotate(-90 413.1 276)">Light density</text>
<text transform="translate(428.6,273.6) rotate(-90)" text-anchor="middle" font-size="11.8" fill="#000"><tspan font-size="11.8" dy="0">(mw/cm</tspan><tspan font-size="7.32" dy="-4.48">2</tspan><tspan font-size="11.8" dy="4.48">)</tspan></text>
<text transform="translate(242,277.8) rotate(-90)" text-anchor="start"><tspan font-size="14.5" dy="0">I</tspan><tspan font-size="8.4" dy="6">DS</tspan><tspan font-size="14.5" dy="-6">(A)</tspan></text>
<text x="343.6" y="346.6" font-size="14.6" text-anchor="start" fill="#000" font-weight="normal" >V</text>
<text x="353.2" y="352.8" font-size="8.6" text-anchor="start" fill="#000" font-weight="normal" >DS</text>
<text x="364.9" y="346.6" font-size="14.6" text-anchor="start" fill="#000" font-weight="normal" >(V)</text>
<text x="232.4" y="192.2" font-size="22" text-anchor="start" fill="#000" font-weight="normal" >e</text>
<polyline points="502.9,308.3 508.5,306.92 510.91,306.89 513.31,306.86 515.72,306.84 518.12,306.81 520.53,306.78 522.93,306.75 525.34,306.72 527.75,306.69 530.15,306.66 532.56,306.62 534.96,306.59 537.37,306.56 539.78,306.52 542.18,306.49 544.59,306.45 546.99,306.41 549.4,306.37 551.8,306.34 554.21,306.3 556.62,306.26 559.02,306.22 561.43,306.17 563.83,306.13 566.24,306.09 568.64,306.04 571.05,306 573.46,305.95 575.86,305.91 578.27,305.86 580.67,305.81 583.08,305.76 585.49,305.71 587.89,305.66 590.3,305.61 592.7,305.56 595.11,305.51 597.51,305.45 599.92,305.4 602.33,305.35 604.73,305.29 607.14,305.23 609.54,305.18 611.95,305.12 614.36,305.06 616.76,305 619.17,304.94 621.57,304.88 623.98,304.82 626.38,304.76 628.79,304.69 631.2,304.63 633.6,304.56 636.01,304.5 638.41,304.43 640.82,304.36 643.22,304.3 645.63,304.23 648.04,304.16 650.44,304.09 652.85,304.02 655.25,303.95 657.66,303.87 660.07,303.8 662.47,303.73 664.88,303.65 667.28,303.58 669.69,303.5 672.09,303.42 674.5,303.35" fill="none" stroke="#1a8a1a" stroke-width="1.8" stroke-linejoin="round" />
<polyline points="502.9,308.5 508.5,306.86 510.91,306.74 513.31,306.63 515.72,306.52 518.12,306.41 520.53,306.3 522.93,306.19 525.34,306.08 527.75,305.98 530.15,305.87 532.56,305.77 534.96,305.67 537.37,305.57 539.78,305.47 542.18,305.37 544.59,305.27 546.99,305.17 549.4,305.08 551.8,304.98 554.21,304.89 556.62,304.8 559.02,304.71 561.43,304.62 563.83,304.54 566.24,304.45 568.64,304.36 571.05,304.28 573.46,304.2 575.86,304.12 578.27,304.04 580.67,303.96 583.08,303.88 585.49,303.8 587.89,303.73 590.3,303.65 592.7,303.58 595.11,303.51 597.51,303.44 599.92,303.37 602.33,303.3 604.73,303.24 607.14,303.17 609.54,303.11 611.95,303.04 614.36,302.98 616.76,302.92 619.17,302.86 621.57,302.8 623.98,302.75 626.38,302.69 628.79,302.64 631.2,302.58 633.6,302.53 636.01,302.48 638.41,302.43 640.82,302.38 643.22,302.33 645.63,302.29 648.04,302.24 650.44,302.2 652.85,302.16 655.25,302.12 657.66,302.08 660.07,302.04 662.47,302 664.88,301.97 667.28,301.93 669.69,301.9 672.09,301.87 674.5,301.83" fill="none" stroke="#e03838" stroke-width="1.8" stroke-linejoin="round" />
<polyline points="502.9,308.8 508.5,306.84 510.91,306.71 513.31,306.59 515.72,306.47 518.12,306.35 520.53,306.22 522.93,306.11 525.34,305.99 527.75,305.87 530.15,305.75 532.56,305.64 534.96,305.52 537.37,305.41 539.78,305.3 542.18,305.19 544.59,305.08 546.99,304.97 549.4,304.86 551.8,304.75 554.21,304.65 556.62,304.55 559.02,304.44 561.43,304.34 563.83,304.24 566.24,304.14 568.64,304.04 571.05,303.94 573.46,303.85 575.86,303.75 578.27,303.66 580.67,303.56 583.08,303.47 585.49,303.38 587.89,303.29 590.3,303.2 592.7,303.11 595.11,303.03 597.51,302.94 599.92,302.86 602.33,302.77 604.73,302.69 607.14,302.61 609.54,302.53 611.95,302.45 614.36,302.37 616.76,302.29 619.17,302.22 621.57,302.14 623.98,302.07 626.38,302 628.79,301.93 631.2,301.86 633.6,301.79 636.01,301.72 638.41,301.65 640.82,301.58 643.22,301.52 645.63,301.46 648.04,301.39 650.44,301.33 652.85,301.27 655.25,301.21 657.66,301.15 660.07,301.1 662.47,301.04 664.88,300.99 667.28,300.93 669.69,300.88 672.09,300.83 674.5,300.78" fill="none" stroke="#801818" stroke-width="1.8" stroke-linejoin="round" />
<polyline points="502.9,311 508.5,306.86 510.91,306.32 513.31,305.8 515.72,305.3 518.12,304.83 520.53,304.38 522.93,303.95 525.34,303.54 527.75,303.15 530.15,302.78 532.56,302.43 534.96,302.1 537.37,301.78 539.78,301.48 542.18,301.2 544.59,300.94 546.99,300.69 549.4,300.45 551.8,300.23 554.21,300.03 556.62,299.83 559.02,299.65 561.43,299.49 563.83,299.33 566.24,299.18 568.64,299.05 571.05,298.93 573.46,298.81 575.86,298.7 578.27,298.61 580.67,298.52 583.08,298.43 585.49,298.36 587.89,298.29 590.3,298.22 592.7,298.16 595.11,298.11 597.51,298.05 599.92,298.01 602.33,297.96 604.73,297.92 607.14,297.88 609.54,297.84 611.95,297.8 614.36,297.76 616.76,297.72 619.17,297.67 621.57,297.63 623.98,297.59 626.38,297.54 628.79,297.49 631.2,297.43 633.6,297.37 636.01,297.31 638.41,297.24 640.82,297.16 643.22,297.08 645.63,296.98 648.04,296.89 650.44,296.78 652.85,296.66 655.25,296.54 657.66,296.4 660.07,296.26 662.47,296.1 664.88,295.93 667.28,295.75 669.69,295.56 672.09,295.35 674.5,295.13" fill="none" stroke="#14147a" stroke-width="1.8" stroke-linejoin="round" />
<polyline points="502.9,312.4 508.5,306.89 510.91,305.86 513.31,304.87 515.72,303.91 518.12,302.98 520.53,302.09 522.93,301.23 525.34,300.4 527.75,299.6 530.15,298.84 532.56,298.1 534.96,297.39 537.37,296.71 539.78,296.06 542.18,295.44 544.59,294.84 546.99,294.27 549.4,293.72 551.8,293.2 554.21,292.7 556.62,292.22 559.02,291.77 561.43,291.34 563.83,290.92 566.24,290.53 568.64,290.16 571.05,289.81 573.46,289.47 575.86,289.15 578.27,288.85 580.67,288.57 583.08,288.3 585.49,288.04 587.89,287.8 590.3,287.57 592.7,287.36 595.11,287.15 597.51,286.96 599.92,286.78 602.33,286.61 604.73,286.44 607.14,286.29 609.54,286.14 611.95,286 614.36,285.87 616.76,285.74 619.17,285.62 621.57,285.5 623.98,285.39 626.38,285.27 628.79,285.16 631.2,285.06 633.6,284.95 636.01,284.84 638.41,284.73 640.82,284.63 643.22,284.51 645.63,284.4 648.04,284.29 650.44,284.16 652.85,284.04 655.25,283.91 657.66,283.77 660.07,283.63 662.47,283.48 664.88,283.32 667.28,283.15 669.69,282.98 672.09,282.79 674.5,282.59" fill="none" stroke="#8a8a10" stroke-width="1.8" stroke-linejoin="round" />
<polyline points="502.9,313.2 508.5,306.88 510.91,305.6 513.31,304.35 515.72,303.13 518.12,301.94 520.53,300.77 522.93,299.63 525.34,298.52 527.75,297.44 530.15,296.38 532.56,295.35 534.96,294.34 537.37,293.36 539.78,292.4 542.18,291.47 544.59,290.56 546.99,289.68 549.4,288.81 551.8,287.98 554.21,287.16 556.62,286.36 559.02,285.59 561.43,284.84 563.83,284.1 566.24,283.39 568.64,282.7 571.05,282.03 573.46,281.38 575.86,280.74 578.27,280.13 580.67,279.53 583.08,278.95 585.49,278.39 587.89,277.84 590.3,277.32 592.7,276.8 595.11,276.31 597.51,275.82 599.92,275.36 602.33,274.91 604.73,274.47 607.14,274.04 609.54,273.63 611.95,273.24 614.36,272.85 616.76,272.48 619.17,272.12 621.57,271.77 623.98,271.43 626.38,271.1 628.79,270.79 631.2,270.48 633.6,270.18 636.01,269.89 638.41,269.62 640.82,269.34 643.22,269.08 645.63,268.83 648.04,268.58 650.44,268.34 652.85,268.1 655.25,267.87 657.66,267.65 660.07,267.43 662.47,267.22 664.88,267.01 667.28,266.81 669.69,266.61 672.09,266.41 674.5,266.22" fill="none" stroke="#e020e0" stroke-width="1.8" stroke-linejoin="round" />
<polyline points="502.9,314 508.5,306.81 510.91,305.24 513.31,303.71 515.72,302.2 518.12,300.72 520.53,299.26 522.93,297.83 525.34,296.43 527.75,295.05 530.15,293.69 532.56,292.36 534.96,291.06 537.37,289.77 539.78,288.51 542.18,287.27 544.59,286.06 546.99,284.86 549.4,283.69 551.8,282.53 554.21,281.4 556.62,280.29 559.02,279.19 561.43,278.11 563.83,277.06 566.24,276.02 568.64,274.99 571.05,273.98 573.46,272.99 575.86,272.02 578.27,271.06 580.67,270.12 583.08,269.19 585.49,268.27 587.89,267.37 590.3,266.48 592.7,265.6 595.11,264.73 597.51,263.88 599.92,263.04 602.33,262.21 604.73,261.39 607.14,260.57 609.54,259.77 611.95,258.98 614.36,258.19 616.76,257.42 619.17,256.65 621.57,255.88 623.98,255.13 626.38,254.38 628.79,253.63 631.2,252.89 633.6,252.16 636.01,251.43 638.41,250.7 640.82,249.98 643.22,249.25 645.63,248.54 648.04,247.82 650.44,247.1 652.85,246.39 655.25,245.68 657.66,244.96 660.07,244.25 662.47,243.53 664.88,242.82 667.28,242.1 669.69,241.38 672.09,240.65 674.5,239.93" fill="none" stroke="#1a8a8a" stroke-width="1.8" stroke-linejoin="round" />
<polyline points="502.9,314.6 508.5,306.83 510.91,304.84 513.31,302.89 515.72,300.97 518.12,299.08 520.53,297.21 522.93,295.38 525.34,293.57 527.75,291.79 530.15,290.03 532.56,288.31 534.96,286.6 537.37,284.93 539.78,283.28 542.18,281.65 544.59,280.04 546.99,278.46 549.4,276.9 551.8,275.36 554.21,273.84 556.62,272.34 559.02,270.86 561.43,269.4 563.83,267.96 566.24,266.54 568.64,265.13 571.05,263.74 573.46,262.37 575.86,261.01 578.27,259.67 580.67,258.34 583.08,257.03 585.49,255.73 587.89,254.44 590.3,253.16 592.7,251.9 595.11,250.65 597.51,249.4 599.92,248.17 602.33,246.95 604.73,245.73 607.14,244.52 609.54,243.32 611.95,242.13 614.36,240.95 616.76,239.76 619.17,238.59 621.57,237.42 623.98,236.25 626.38,235.09 628.79,233.93 631.2,232.77 633.6,231.61 636.01,230.45 638.41,229.3 640.82,228.14 643.22,226.99 645.63,225.83 648.04,224.67 650.44,223.51 652.85,222.34 655.25,221.18 657.66,220 660.07,218.83 662.47,217.64 664.88,216.46 667.28,215.26 669.69,214.06 672.09,212.85 674.5,211.63" fill="none" stroke="#1818e0" stroke-width="1.8" stroke-linejoin="round" />
<polyline points="502.9,315.2 508.5,306.83 510.91,304.61 513.31,302.42 515.72,300.26 518.12,298.12 520.53,296.01 522.93,293.93 525.34,291.88 527.75,289.85 530.15,287.84 532.56,285.86 534.96,283.91 537.37,281.98 539.78,280.07 542.18,278.18 544.59,276.32 546.99,274.47 549.4,272.65 551.8,270.85 554.21,269.07 556.62,267.31 559.02,265.57 561.43,263.84 563.83,262.14 566.24,260.45 568.64,258.78 571.05,257.12 573.46,255.48 575.86,253.86 578.27,252.25 580.67,250.65 583.08,249.07 585.49,247.51 587.89,245.95 590.3,244.41 592.7,242.88 595.11,241.37 597.51,239.86 599.92,238.36 602.33,236.87 604.73,235.4 607.14,233.93 609.54,232.47 611.95,231.02 614.36,229.57 616.76,228.13 619.17,226.7 621.57,225.28 623.98,223.85 626.38,222.44 628.79,221.03 631.2,219.62 633.6,218.22 636.01,216.81 638.41,215.42 640.82,214.02 643.22,212.62 645.63,211.23 648.04,209.83 650.44,208.44 652.85,207.04 655.25,205.64 657.66,204.24 660.07,202.84 662.47,201.44 664.88,200.03 667.28,198.62 669.69,197.2 672.09,195.78 674.5,194.36" fill="none" stroke="#e02020" stroke-width="1.8" stroke-linejoin="round" />
<polyline points="502.9,315.8 508.5,306.84 510.91,304.54 513.31,302.26 515.72,300.01 518.12,297.79 520.53,295.59 522.93,293.41 525.34,291.26 527.75,289.13 530.15,287.02 532.56,284.94 534.96,282.87 537.37,280.83 539.78,278.81 542.18,276.81 544.59,274.83 546.99,272.87 549.4,270.92 551.8,269 554.21,267.09 556.62,265.2 559.02,263.33 561.43,261.48 563.83,259.64 566.24,257.81 568.64,256 571.05,254.21 573.46,252.43 575.86,250.66 578.27,248.91 580.67,247.17 583.08,245.44 585.49,243.72 587.89,242.02 590.3,240.32 592.7,238.64 595.11,236.97 597.51,235.3 599.92,233.64 602.33,232 604.73,230.36 607.14,228.72 609.54,227.1 611.95,225.48 614.36,223.87 616.76,222.26 619.17,220.66 621.57,219.06 623.98,217.47 626.38,215.88 628.79,214.29 631.2,212.71 633.6,211.13 636.01,209.55 638.41,207.97 640.82,206.39 643.22,204.81 645.63,203.23 648.04,201.66 650.44,200.08 652.85,198.5 655.25,196.91 657.66,195.33 660.07,193.74 662.47,192.15 664.88,190.55 667.28,188.95 669.69,187.35 672.09,185.74 674.5,184.12" fill="none" stroke="#111111" stroke-width="1.8" stroke-linejoin="round" />
<rect x="498.5" y="181.5" width="179" height="136" fill="none" stroke="#555555" stroke-width="1"/>
<line x1="495.3" y1="313.5" x2="498.5" y2="313.5" stroke="#555555" stroke-width="1"/>
<line x1="495.3" y1="295.5" x2="498.5" y2="295.5" stroke="#555555" stroke-width="1"/>
<line x1="495.3" y1="278.5" x2="498.5" y2="278.5" stroke="#555555" stroke-width="1"/>
<line x1="495.3" y1="260.5" x2="498.5" y2="260.5" stroke="#555555" stroke-width="1"/>
<line x1="495.3" y1="242.5" x2="498.5" y2="242.5" stroke="#555555" stroke-width="1"/>
<line x1="495.3" y1="224.5" x2="498.5" y2="224.5" stroke="#555555" stroke-width="1"/>
<line x1="495.3" y1="207.5" x2="498.5" y2="207.5" stroke="#555555" stroke-width="1"/>
<line x1="495.3" y1="189.5" x2="498.5" y2="189.5" stroke="#555555" stroke-width="1"/>
<line x1="496.5" y1="304.5" x2="498.5" y2="304.5" stroke="#555555" stroke-width="1"/>
<line x1="496.5" y1="286.5" x2="498.5" y2="286.5" stroke="#555555" stroke-width="1"/>
<line x1="496.5" y1="269.5" x2="498.5" y2="269.5" stroke="#555555" stroke-width="1"/>
<line x1="496.5" y1="251.5" x2="498.5" y2="251.5" stroke="#555555" stroke-width="1"/>
<line x1="496.5" y1="233.5" x2="498.5" y2="233.5" stroke="#555555" stroke-width="1"/>
<line x1="496.5" y1="216.5" x2="498.5" y2="216.5" stroke="#555555" stroke-width="1"/>
<line x1="496.5" y1="198.5" x2="498.5" y2="198.5" stroke="#555555" stroke-width="1"/>
<line x1="502.5" y1="317.5" x2="502.5" y2="320.7" stroke="#555555" stroke-width="1"/>
<line x1="537.5" y1="317.5" x2="537.5" y2="320.7" stroke="#555555" stroke-width="1"/>
<line x1="571.5" y1="317.5" x2="571.5" y2="320.7" stroke="#555555" stroke-width="1"/>
<line x1="605.5" y1="317.5" x2="605.5" y2="320.7" stroke="#555555" stroke-width="1"/>
<line x1="640.5" y1="317.5" x2="640.5" y2="320.7" stroke="#555555" stroke-width="1"/>
<line x1="674.5" y1="317.5" x2="674.5" y2="320.7" stroke="#555555" stroke-width="1"/>
<line x1="520.5" y1="317.5" x2="520.5" y2="319.5" stroke="#555555" stroke-width="1"/>
<line x1="554.5" y1="317.5" x2="554.5" y2="319.5" stroke="#555555" stroke-width="1"/>
<line x1="588.5" y1="317.5" x2="588.5" y2="319.5" stroke="#555555" stroke-width="1"/>
<line x1="623.5" y1="317.5" x2="623.5" y2="319.5" stroke="#555555" stroke-width="1"/>
<line x1="657.5" y1="317.5" x2="657.5" y2="319.5" stroke="#555555" stroke-width="1"/>
<text x="493.2" y="317.3" font-size="11" text-anchor="end" fill="#111" font-weight="normal" >0</text>
<text x="493.2" y="299.61" font-size="11" text-anchor="end" fill="#111" font-weight="normal" >2</text>
<text x="493.2" y="281.93" font-size="11" text-anchor="end" fill="#111" font-weight="normal" >4</text>
<text x="493.2" y="264.24" font-size="11" text-anchor="end" fill="#111" font-weight="normal" >6</text>
<text x="493.2" y="246.56" font-size="11" text-anchor="end" fill="#111" font-weight="normal" >8</text>
<text x="493.2" y="228.87" font-size="11" text-anchor="end" fill="#111" font-weight="normal" >10</text>
<text x="493.2" y="211.18" font-size="11" text-anchor="end" fill="#111" font-weight="normal" >12</text>
<text x="493.2" y="193.5" font-size="11" text-anchor="end" fill="#111" font-weight="normal" >14</text>
<text x="502.9" y="331.5" font-size="11" text-anchor="middle" fill="#111" font-weight="normal" >0.0</text>
<text x="537.22" y="331.5" font-size="11" text-anchor="middle" fill="#111" font-weight="normal" >0.2</text>
<text x="571.54" y="331.5" font-size="11" text-anchor="middle" fill="#111" font-weight="normal" >0.4</text>
<text x="605.86" y="331.5" font-size="11" text-anchor="middle" fill="#111" font-weight="normal" >0.6</text>
<text x="640.18" y="331.5" font-size="11" text-anchor="middle" fill="#111" font-weight="normal" >0.8</text>
<text x="674.5" y="331.5" font-size="11" text-anchor="middle" fill="#111" font-weight="normal" >1.0</text>
<rect x="498.2" y="181" width="39" height="95" fill="#fff" stroke="#8a8a8a" stroke-width="0.8"/>
<line x1="499" y1="185.6" x2="518.8" y2="185.6" stroke="#111111" stroke-width="2"/>
<text x="520" y="188.7" font-size="8.5" text-anchor="start" fill="#111" font-weight="bold" >62.8</text>
<line x1="499" y1="194.7" x2="518.8" y2="194.7" stroke="#e02020" stroke-width="2"/>
<text x="520" y="197.8" font-size="8.5" text-anchor="start" fill="#111" font-weight="bold" >55.3</text>
<line x1="499" y1="204.2" x2="518.8" y2="204.2" stroke="#1818e0" stroke-width="2"/>
<text x="520" y="207.3" font-size="8.5" text-anchor="start" fill="#111" font-weight="bold" >48.2</text>
<line x1="499" y1="213.6" x2="518.8" y2="213.6" stroke="#1a8a8a" stroke-width="2"/>
<text x="520" y="216.7" font-size="8.5" text-anchor="start" fill="#111" font-weight="bold" >39.1</text>
<line x1="499" y1="223.2" x2="518.8" y2="223.2" stroke="#e020e0" stroke-width="2"/>
<text x="520" y="226.3" font-size="8.5" text-anchor="start" fill="#111" font-weight="bold" >28</text>
<line x1="499" y1="232.8" x2="518.8" y2="232.8" stroke="#8a8a10" stroke-width="2"/>
<text x="520" y="235.9" font-size="8.5" text-anchor="start" fill="#111" font-weight="bold" >16</text>
<line x1="499" y1="242.6" x2="518.8" y2="242.6" stroke="#14147a" stroke-width="2"/>
<text x="520" y="245.7" font-size="8.5" text-anchor="start" fill="#111" font-weight="bold" >9</text>
<line x1="499" y1="252.2" x2="518.8" y2="252.2" stroke="#801818" stroke-width="2"/>
<text x="520" y="255.3" font-size="8.5" text-anchor="start" fill="#111" font-weight="bold" >2.3</text>
<line x1="499" y1="262" x2="518.8" y2="262" stroke="#e03838" stroke-width="2"/>
<text x="520" y="265.1" font-size="8.5" text-anchor="start" fill="#111" font-weight="bold" >0.3</text>
<line x1="499" y1="271.8" x2="518.8" y2="271.8" stroke="#1a8a1a" stroke-width="2"/>
<text x="520" y="274.9" font-size="8.5" text-anchor="start" fill="#111" font-weight="bold" >0.1</text>
<line x1="543.3" y1="183.3" x2="543.3" y2="262" stroke="#2828e0" stroke-width="1.1"/>
<path d="M540.8,261 L545.8,261 L543.3,269.2 Z" fill="#2828e0"/>
<text x="559.5" y="220.8" font-size="12.2" text-anchor="middle" fill="#000" font-weight="normal" transform="rotate(-90 559.5 220.8)">Light density:</text>
<text transform="translate(575.5,220.2) rotate(-90)" text-anchor="middle" font-size="12.2" fill="#000"><tspan font-size="12.2" dy="0">(mw/cm</tspan><tspan font-size="7.56" dy="-4.64">2</tspan><tspan font-size="12.2" dy="4.64">)</tspan></text>
<text transform="translate(477,280.2) rotate(-90)" text-anchor="start"><tspan font-size="18" dy="0">I</tspan><tspan font-size="10.4" dy="6.5">DS</tspan><tspan font-size="18" dy="-6.5">(10</tspan><tspan font-size="9.3" dy="-12.6">-7</tspan><tspan font-size="18" dy="12.6">A)</tspan></text>
<text x="559.2" y="346.2" font-size="17.8" text-anchor="start" fill="#000" font-weight="normal" >V</text>
<text x="571.3" y="353.3" font-size="11.2" text-anchor="start" fill="#000" font-weight="normal" >DS</text>
<text x="592.6" y="346.2" font-size="17.8" text-anchor="start" fill="#000" font-weight="normal" >(V)</text>
<text x="463.3" y="195.7" font-size="21.5" text-anchor="start" fill="#000" font-weight="normal" >f</text>
</svg>
</body></html>
